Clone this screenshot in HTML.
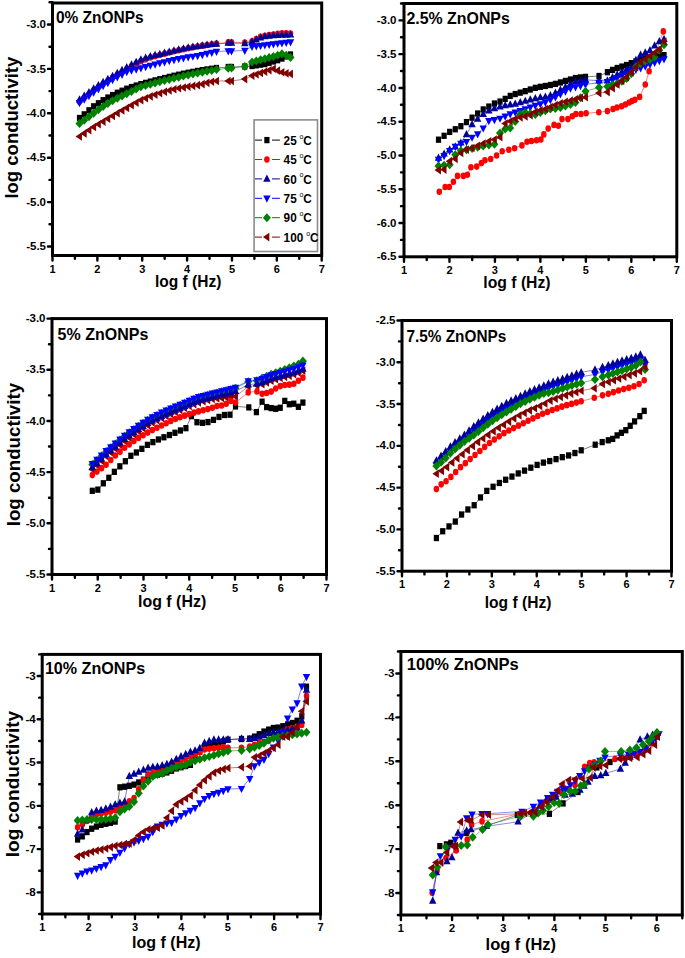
<!DOCTYPE html>
<html><head><meta charset="utf-8"><title>Log conductivity vs log f</title>
<style>html,body{margin:0;padding:0;background:#fff;overflow:hidden}svg{display:block}</style>
</head><body>
<svg width="685" height="958" viewBox="0 0 685 958" font-family='"Liberation Sans", sans-serif'>
<rect x="52.5" y="3" width="269.2" height="252.5" fill="none" stroke="#000" stroke-width="3.0"/>
<text x="52.5" y="272.5" font-size="11" font-weight="bold" text-anchor="middle">1</text>
<text x="97.37" y="272.5" font-size="11" font-weight="bold" text-anchor="middle">2</text>
<text x="142.23" y="272.5" font-size="11" font-weight="bold" text-anchor="middle">3</text>
<text x="187.1" y="272.5" font-size="11" font-weight="bold" text-anchor="middle">4</text>
<text x="231.97" y="272.5" font-size="11" font-weight="bold" text-anchor="middle">5</text>
<text x="276.83" y="272.5" font-size="11" font-weight="bold" text-anchor="middle">6</text>
<text x="321.7" y="272.5" font-size="11" font-weight="bold" text-anchor="middle">7</text>
<text x="46" y="28.1" font-size="11.5" font-weight="bold" text-anchor="end">-3.0</text>
<text x="46" y="72.5" font-size="11.5" font-weight="bold" text-anchor="end">-3.5</text>
<text x="46" y="116.9" font-size="11.5" font-weight="bold" text-anchor="end">-4.0</text>
<text x="46" y="161.3" font-size="11.5" font-weight="bold" text-anchor="end">-4.5</text>
<text x="46" y="205.7" font-size="11.5" font-weight="bold" text-anchor="end">-5.0</text>
<text x="46" y="250.1" font-size="11.5" font-weight="bold" text-anchor="end">-5.5</text>
<path d="M52.5 255.5V260.5M74.93 255.5V258.7M97.37 255.5V260.5M119.8 255.5V258.7M142.23 255.5V260.5M164.67 255.5V258.7M187.1 255.5V260.5M209.53 255.5V258.7M231.97 255.5V260.5M254.4 255.5V258.7M276.83 255.5V260.5M299.27 255.5V258.7M321.7 255.5V260.5M52.5 2.3H49.5M52.5 24.5H48M52.5 46.7H49.5M52.5 68.9H48M52.5 91.1H49.5M52.5 113.3H48M52.5 135.5H49.5M52.5 157.7H48M52.5 179.9H49.5M52.5 202.1H48M52.5 224.3H49.5M52.5 246.5H48" stroke="#000" stroke-width="2.4" stroke-linecap="round" fill="none"/>
<path d="M79.5 118L84.22 114.37L88.95 110.32L93.67 106.32L98.4 103.27L103.12 100.22L107.84 97.54L112.57 95.12L117.29 92.75L122.02 90.73L126.74 88.71L131.47 87.05L136.19 85.58L140.91 84.15L145.64 82.87L150.36 81.59L155.09 80.39L159.81 79.21L164.53 78.05L169.26 76.9L173.98 75.75L178.71 74.71L183.43 73.71L188.16 72.74L192.88 71.85L197.6 70.95L202.33 70.16L207.05 69.46L211.78 68.75L216.5 68L228.2 67L231.5 67L244.8 66.5L252 66L256.28 65.34L260.56 64.68L264.83 64.03L269.11 62.77L273.39 61.48L277.67 60.2L281.94 58.53L286.22 56.39L290.5 54.5" stroke="#000000" stroke-width="0.5" fill="none"/>
<rect x="76.9" y="114.85" width="5.2" height="6.3" fill="#000000"/>
<rect x="81.62" y="111.22" width="5.2" height="6.3" fill="#000000"/>
<rect x="86.35" y="107.17" width="5.2" height="6.3" fill="#000000"/>
<rect x="91.07" y="103.17" width="5.2" height="6.3" fill="#000000"/>
<rect x="95.8" y="100.12" width="5.2" height="6.3" fill="#000000"/>
<rect x="100.52" y="97.07" width="5.2" height="6.3" fill="#000000"/>
<rect x="105.24" y="94.39" width="5.2" height="6.3" fill="#000000"/>
<rect x="109.97" y="91.97" width="5.2" height="6.3" fill="#000000"/>
<rect x="114.69" y="89.6" width="5.2" height="6.3" fill="#000000"/>
<rect x="119.42" y="87.58" width="5.2" height="6.3" fill="#000000"/>
<rect x="124.14" y="85.56" width="5.2" height="6.3" fill="#000000"/>
<rect x="128.87" y="83.9" width="5.2" height="6.3" fill="#000000"/>
<rect x="133.59" y="82.43" width="5.2" height="6.3" fill="#000000"/>
<rect x="138.31" y="81" width="5.2" height="6.3" fill="#000000"/>
<rect x="143.04" y="79.72" width="5.2" height="6.3" fill="#000000"/>
<rect x="147.76" y="78.44" width="5.2" height="6.3" fill="#000000"/>
<rect x="152.49" y="77.24" width="5.2" height="6.3" fill="#000000"/>
<rect x="157.21" y="76.06" width="5.2" height="6.3" fill="#000000"/>
<rect x="161.93" y="74.9" width="5.2" height="6.3" fill="#000000"/>
<rect x="166.66" y="73.75" width="5.2" height="6.3" fill="#000000"/>
<rect x="171.38" y="72.6" width="5.2" height="6.3" fill="#000000"/>
<rect x="176.11" y="71.56" width="5.2" height="6.3" fill="#000000"/>
<rect x="180.83" y="70.56" width="5.2" height="6.3" fill="#000000"/>
<rect x="185.56" y="69.59" width="5.2" height="6.3" fill="#000000"/>
<rect x="190.28" y="68.7" width="5.2" height="6.3" fill="#000000"/>
<rect x="195" y="67.8" width="5.2" height="6.3" fill="#000000"/>
<rect x="199.73" y="67.01" width="5.2" height="6.3" fill="#000000"/>
<rect x="204.45" y="66.31" width="5.2" height="6.3" fill="#000000"/>
<rect x="209.18" y="65.6" width="5.2" height="6.3" fill="#000000"/>
<rect x="213.9" y="64.85" width="5.2" height="6.3" fill="#000000"/>
<rect x="225.6" y="63.85" width="5.2" height="6.3" fill="#000000"/>
<rect x="228.9" y="63.85" width="5.2" height="6.3" fill="#000000"/>
<rect x="242.2" y="63.35" width="5.2" height="6.3" fill="#000000"/>
<rect x="249.4" y="62.85" width="5.2" height="6.3" fill="#000000"/>
<rect x="253.68" y="62.19" width="5.2" height="6.3" fill="#000000"/>
<rect x="257.96" y="61.53" width="5.2" height="6.3" fill="#000000"/>
<rect x="262.23" y="60.88" width="5.2" height="6.3" fill="#000000"/>
<rect x="266.51" y="59.62" width="5.2" height="6.3" fill="#000000"/>
<rect x="270.79" y="58.33" width="5.2" height="6.3" fill="#000000"/>
<rect x="275.07" y="57.05" width="5.2" height="6.3" fill="#000000"/>
<rect x="279.34" y="55.38" width="5.2" height="6.3" fill="#000000"/>
<rect x="283.62" y="53.24" width="5.2" height="6.3" fill="#000000"/>
<rect x="287.9" y="51.35" width="5.2" height="6.3" fill="#000000"/>
<path d="M79.5 101.69L84.22 97.89L88.95 94.09L93.67 90.31L98.4 87.05L103.12 83.8L107.84 80.68L112.57 77.65L117.29 74.65L122.02 71.82L126.74 68.99L131.47 66.28L136.19 63.64L140.91 61.15L145.64 59.35L150.36 57.55L155.09 56.16L159.81 54.95L164.53 53.73L169.26 52.5L173.98 51.27L178.71 50.21L183.43 49.21L188.16 48.24L192.88 47.35L197.6 46.45L202.33 45.66L207.05 44.96L211.78 44.29L216.5 43.66L228.2 42.42L231.5 42.21L244.8 42.6L252 41.2L256.28 39.06L260.56 36.92L264.83 35.76L269.11 35.11L273.39 34.45L277.67 33.82L281.94 33.21L286.22 33.36L290.5 33.5" stroke="#ff0000" stroke-width="0.5" fill="none"/>
<ellipse cx="79.5" cy="101.69" rx="2.75" ry="3.3" fill="#ff0000"/>
<ellipse cx="84.22" cy="97.89" rx="2.75" ry="3.3" fill="#ff0000"/>
<ellipse cx="88.95" cy="94.09" rx="2.75" ry="3.3" fill="#ff0000"/>
<ellipse cx="93.67" cy="90.31" rx="2.75" ry="3.3" fill="#ff0000"/>
<ellipse cx="98.4" cy="87.05" rx="2.75" ry="3.3" fill="#ff0000"/>
<ellipse cx="103.12" cy="83.8" rx="2.75" ry="3.3" fill="#ff0000"/>
<ellipse cx="107.84" cy="80.68" rx="2.75" ry="3.3" fill="#ff0000"/>
<ellipse cx="112.57" cy="77.65" rx="2.75" ry="3.3" fill="#ff0000"/>
<ellipse cx="117.29" cy="74.65" rx="2.75" ry="3.3" fill="#ff0000"/>
<ellipse cx="122.02" cy="71.82" rx="2.75" ry="3.3" fill="#ff0000"/>
<ellipse cx="126.74" cy="68.99" rx="2.75" ry="3.3" fill="#ff0000"/>
<ellipse cx="131.47" cy="66.28" rx="2.75" ry="3.3" fill="#ff0000"/>
<ellipse cx="136.19" cy="63.64" rx="2.75" ry="3.3" fill="#ff0000"/>
<ellipse cx="140.91" cy="61.15" rx="2.75" ry="3.3" fill="#ff0000"/>
<ellipse cx="145.64" cy="59.35" rx="2.75" ry="3.3" fill="#ff0000"/>
<ellipse cx="150.36" cy="57.55" rx="2.75" ry="3.3" fill="#ff0000"/>
<ellipse cx="155.09" cy="56.16" rx="2.75" ry="3.3" fill="#ff0000"/>
<ellipse cx="159.81" cy="54.95" rx="2.75" ry="3.3" fill="#ff0000"/>
<ellipse cx="164.53" cy="53.73" rx="2.75" ry="3.3" fill="#ff0000"/>
<ellipse cx="169.26" cy="52.5" rx="2.75" ry="3.3" fill="#ff0000"/>
<ellipse cx="173.98" cy="51.27" rx="2.75" ry="3.3" fill="#ff0000"/>
<ellipse cx="178.71" cy="50.21" rx="2.75" ry="3.3" fill="#ff0000"/>
<ellipse cx="183.43" cy="49.21" rx="2.75" ry="3.3" fill="#ff0000"/>
<ellipse cx="188.16" cy="48.24" rx="2.75" ry="3.3" fill="#ff0000"/>
<ellipse cx="192.88" cy="47.35" rx="2.75" ry="3.3" fill="#ff0000"/>
<ellipse cx="197.6" cy="46.45" rx="2.75" ry="3.3" fill="#ff0000"/>
<ellipse cx="202.33" cy="45.66" rx="2.75" ry="3.3" fill="#ff0000"/>
<ellipse cx="207.05" cy="44.96" rx="2.75" ry="3.3" fill="#ff0000"/>
<ellipse cx="211.78" cy="44.29" rx="2.75" ry="3.3" fill="#ff0000"/>
<ellipse cx="216.5" cy="43.66" rx="2.75" ry="3.3" fill="#ff0000"/>
<ellipse cx="228.2" cy="42.42" rx="2.75" ry="3.3" fill="#ff0000"/>
<ellipse cx="231.5" cy="42.21" rx="2.75" ry="3.3" fill="#ff0000"/>
<ellipse cx="244.8" cy="42.6" rx="2.75" ry="3.3" fill="#ff0000"/>
<ellipse cx="252" cy="41.2" rx="2.75" ry="3.3" fill="#ff0000"/>
<ellipse cx="256.28" cy="39.06" rx="2.75" ry="3.3" fill="#ff0000"/>
<ellipse cx="260.56" cy="36.92" rx="2.75" ry="3.3" fill="#ff0000"/>
<ellipse cx="264.83" cy="35.76" rx="2.75" ry="3.3" fill="#ff0000"/>
<ellipse cx="269.11" cy="35.11" rx="2.75" ry="3.3" fill="#ff0000"/>
<ellipse cx="273.39" cy="34.45" rx="2.75" ry="3.3" fill="#ff0000"/>
<ellipse cx="277.67" cy="33.82" rx="2.75" ry="3.3" fill="#ff0000"/>
<ellipse cx="281.94" cy="33.21" rx="2.75" ry="3.3" fill="#ff0000"/>
<ellipse cx="286.22" cy="33.36" rx="2.75" ry="3.3" fill="#ff0000"/>
<ellipse cx="290.5" cy="33.5" rx="2.75" ry="3.3" fill="#ff0000"/>
<path d="M79.5 99.73L84.22 96.08L88.95 92.44L93.67 88.81L98.4 85.55L103.12 82.3L107.84 79.18L112.57 76.15L117.29 73.15L122.02 70.32L126.74 67.49L131.47 64.78L136.19 62.14L140.91 59.69L145.64 58.09L150.36 56.49L155.09 55.24L159.81 54.15L164.53 53.05L169.26 51.9L173.98 50.75L178.71 49.71L183.43 48.71L188.16 47.79L192.88 47.08L197.6 46.36L202.33 45.66L207.05 44.96L211.78 44.37L216.5 43.99L228.2 43L231.5 43L244.8 43.5L252 41.7L256.28 39.69L260.56 37.68L264.83 36.63L269.11 36.07L273.39 35.51L277.67 35.21L281.94 35.07L286.22 34.93L290.5 34.8" stroke="#00009a" stroke-width="0.5" fill="none"/>
<path d="M79.5 95.26L83.2 102.46L75.8 102.46Z" fill="#00009a"/>
<path d="M84.22 91.62L87.92 98.82L80.52 98.82Z" fill="#00009a"/>
<path d="M88.95 87.97L92.65 95.17L85.25 95.17Z" fill="#00009a"/>
<path d="M93.67 84.35L97.37 91.55L89.97 91.55Z" fill="#00009a"/>
<path d="M98.4 81.09L102.1 88.29L94.7 88.29Z" fill="#00009a"/>
<path d="M103.12 77.83L106.82 85.03L99.42 85.03Z" fill="#00009a"/>
<path d="M107.84 74.71L111.54 81.91L104.14 81.91Z" fill="#00009a"/>
<path d="M112.57 71.68L116.27 78.88L108.87 78.88Z" fill="#00009a"/>
<path d="M117.29 68.68L120.99 75.88L113.59 75.88Z" fill="#00009a"/>
<path d="M122.02 65.85L125.72 73.05L118.32 73.05Z" fill="#00009a"/>
<path d="M126.74 63.03L130.44 70.23L123.04 70.23Z" fill="#00009a"/>
<path d="M131.47 60.32L135.17 67.52L127.77 67.52Z" fill="#00009a"/>
<path d="M136.19 57.67L139.89 64.87L132.49 64.87Z" fill="#00009a"/>
<path d="M140.91 55.23L144.61 62.43L137.21 62.43Z" fill="#00009a"/>
<path d="M145.64 53.62L149.34 60.82L141.94 60.82Z" fill="#00009a"/>
<path d="M150.36 52.02L154.06 59.22L146.66 59.22Z" fill="#00009a"/>
<path d="M155.09 50.78L158.79 57.98L151.39 57.98Z" fill="#00009a"/>
<path d="M159.81 49.69L163.51 56.89L156.11 56.89Z" fill="#00009a"/>
<path d="M164.53 48.58L168.23 55.78L160.83 55.78Z" fill="#00009a"/>
<path d="M169.26 47.43L172.96 54.63L165.56 54.63Z" fill="#00009a"/>
<path d="M173.98 46.28L177.68 53.48L170.28 53.48Z" fill="#00009a"/>
<path d="M178.71 45.25L182.41 52.45L175.01 52.45Z" fill="#00009a"/>
<path d="M183.43 44.25L187.13 51.45L179.73 51.45Z" fill="#00009a"/>
<path d="M188.16 43.33L191.86 50.53L184.46 50.53Z" fill="#00009a"/>
<path d="M192.88 42.61L196.58 49.81L189.18 49.81Z" fill="#00009a"/>
<path d="M197.6 41.9L201.3 49.1L193.9 49.1Z" fill="#00009a"/>
<path d="M202.33 41.19L206.03 48.39L198.63 48.39Z" fill="#00009a"/>
<path d="M207.05 40.5L210.75 47.7L203.35 47.7Z" fill="#00009a"/>
<path d="M211.78 39.91L215.48 47.11L208.08 47.11Z" fill="#00009a"/>
<path d="M216.5 39.52L220.2 46.72L212.8 46.72Z" fill="#00009a"/>
<path d="M228.2 38.54L231.9 45.74L224.5 45.74Z" fill="#00009a"/>
<path d="M231.5 38.54L235.2 45.74L227.8 45.74Z" fill="#00009a"/>
<path d="M244.8 39.04L248.5 46.24L241.1 46.24Z" fill="#00009a"/>
<path d="M252 37.24L255.7 44.44L248.3 44.44Z" fill="#00009a"/>
<path d="M256.28 35.23L259.98 42.43L252.58 42.43Z" fill="#00009a"/>
<path d="M260.56 33.21L264.26 40.41L256.86 40.41Z" fill="#00009a"/>
<path d="M264.83 32.17L268.53 39.37L261.13 39.37Z" fill="#00009a"/>
<path d="M269.11 31.61L272.81 38.81L265.41 38.81Z" fill="#00009a"/>
<path d="M273.39 31.05L277.09 38.25L269.69 38.25Z" fill="#00009a"/>
<path d="M277.67 30.75L281.37 37.95L273.97 37.95Z" fill="#00009a"/>
<path d="M281.94 30.6L285.64 37.8L278.24 37.8Z" fill="#00009a"/>
<path d="M286.22 30.46L289.92 37.66L282.52 37.66Z" fill="#00009a"/>
<path d="M290.5 30.34L294.2 37.54L286.8 37.54Z" fill="#00009a"/>
<path d="M79.5 102.76L84.22 99.27L88.95 95.79L93.67 92.31L98.4 89.05L103.12 85.8L107.84 82.75L112.57 79.84L117.29 76.98L122.02 74.44L126.74 71.89L131.47 70.29L136.19 69.19L140.91 68.04L145.64 66.72L150.36 65.4L155.09 64.21L159.81 63.08L164.53 61.96L169.26 60.85L173.98 59.74L178.71 58.81L183.43 57.93L188.16 57.09L192.88 56.38L197.6 55.66L202.33 54.73L207.05 53.57L211.78 52.47L216.5 51.5L228.2 51L231.5 51L244.8 50.5L252 46.5L256.28 46.07L260.56 45.64L264.83 45.11L269.11 44.52L273.39 43.92L277.67 43.4L281.94 42.91L286.22 42.43L290.5 42" stroke="#0000ff" stroke-width="0.5" fill="none"/>
<path d="M79.5 107.23L83.2 100.03L75.8 100.03Z" fill="#0000ff"/>
<path d="M84.22 103.74L87.92 96.54L80.52 96.54Z" fill="#0000ff"/>
<path d="M88.95 100.25L92.65 93.05L85.25 93.05Z" fill="#0000ff"/>
<path d="M93.67 96.78L97.37 89.58L89.97 89.58Z" fill="#0000ff"/>
<path d="M98.4 93.52L102.1 86.32L94.7 86.32Z" fill="#0000ff"/>
<path d="M103.12 90.26L106.82 83.06L99.42 83.06Z" fill="#0000ff"/>
<path d="M107.84 87.21L111.54 80.01L104.14 80.01Z" fill="#0000ff"/>
<path d="M112.57 84.31L116.27 77.11L108.87 77.11Z" fill="#0000ff"/>
<path d="M117.29 81.44L120.99 74.24L113.59 74.24Z" fill="#0000ff"/>
<path d="M122.02 78.9L125.72 71.7L118.32 71.7Z" fill="#0000ff"/>
<path d="M126.74 76.36L130.44 69.16L123.04 69.16Z" fill="#0000ff"/>
<path d="M131.47 74.75L135.17 67.55L127.77 67.55Z" fill="#0000ff"/>
<path d="M136.19 73.65L139.89 66.45L132.49 66.45Z" fill="#0000ff"/>
<path d="M140.91 72.51L144.61 65.31L137.21 65.31Z" fill="#0000ff"/>
<path d="M145.64 71.19L149.34 63.99L141.94 63.99Z" fill="#0000ff"/>
<path d="M150.36 69.87L154.06 62.67L146.66 62.67Z" fill="#0000ff"/>
<path d="M155.09 68.68L158.79 61.48L151.39 61.48Z" fill="#0000ff"/>
<path d="M159.81 67.55L163.51 60.35L156.11 60.35Z" fill="#0000ff"/>
<path d="M164.53 66.42L168.23 59.22L160.83 59.22Z" fill="#0000ff"/>
<path d="M169.26 65.31L172.96 58.11L165.56 58.11Z" fill="#0000ff"/>
<path d="M173.98 64.2L177.68 57L170.28 57Z" fill="#0000ff"/>
<path d="M178.71 63.27L182.41 56.07L175.01 56.07Z" fill="#0000ff"/>
<path d="M183.43 62.39L187.13 55.19L179.73 55.19Z" fill="#0000ff"/>
<path d="M188.16 61.56L191.86 54.36L184.46 54.36Z" fill="#0000ff"/>
<path d="M192.88 60.84L196.58 53.64L189.18 53.64Z" fill="#0000ff"/>
<path d="M197.6 60.13L201.3 52.93L193.9 52.93Z" fill="#0000ff"/>
<path d="M202.33 59.19L206.03 51.99L198.63 51.99Z" fill="#0000ff"/>
<path d="M207.05 58.04L210.75 50.84L203.35 50.84Z" fill="#0000ff"/>
<path d="M211.78 56.94L215.48 49.74L208.08 49.74Z" fill="#0000ff"/>
<path d="M216.5 55.96L220.2 48.76L212.8 48.76Z" fill="#0000ff"/>
<path d="M228.2 55.46L231.9 48.26L224.5 48.26Z" fill="#0000ff"/>
<path d="M231.5 55.46L235.2 48.26L227.8 48.26Z" fill="#0000ff"/>
<path d="M244.8 54.96L248.5 47.76L241.1 47.76Z" fill="#0000ff"/>
<path d="M252 50.96L255.7 43.76L248.3 43.76Z" fill="#0000ff"/>
<path d="M256.28 50.54L259.98 43.34L252.58 43.34Z" fill="#0000ff"/>
<path d="M260.56 50.11L264.26 42.91L256.86 42.91Z" fill="#0000ff"/>
<path d="M264.83 49.57L268.53 42.37L261.13 42.37Z" fill="#0000ff"/>
<path d="M269.11 48.98L272.81 41.78L265.41 41.78Z" fill="#0000ff"/>
<path d="M273.39 48.39L277.09 41.19L269.69 41.19Z" fill="#0000ff"/>
<path d="M277.67 47.86L281.37 40.66L273.97 40.66Z" fill="#0000ff"/>
<path d="M281.94 47.38L285.64 40.18L278.24 40.18Z" fill="#0000ff"/>
<path d="M286.22 46.89L289.92 39.69L282.52 39.69Z" fill="#0000ff"/>
<path d="M290.5 46.46L294.2 39.26L286.8 39.26Z" fill="#0000ff"/>
<path d="M79.5 123.5L84.22 120.35L88.95 116.82L93.67 113.3L98.4 109.84L103.12 106.38L107.84 103.42L112.57 100.8L117.29 98.22L122.02 96L126.74 93.78L131.47 91.41L136.19 88.97L140.91 86.75L145.64 85.47L150.36 84.19L155.09 82.96L159.81 81.75L164.53 80.55L169.26 79.4L173.98 78.25L178.71 77.15L183.43 76.07L188.16 75.02L192.88 74.06L197.6 73.09L202.33 72.17L207.05 71.29L211.78 70.4L216.5 69.5L228.2 68.3L231.5 68L244.8 66.6L252 62L256.28 60.89L260.56 59.78L264.83 58.68L269.11 57.59L273.39 56.51L277.67 55.23L281.94 53.84L286.22 55.3L290.5 57.4" stroke="#008000" stroke-width="0.5" fill="none"/>
<path d="M79.5 119L83.5 123.5L79.5 128L75.5 123.5Z" fill="#008000"/>
<path d="M84.22 115.85L88.22 120.35L84.22 124.85L80.22 120.35Z" fill="#008000"/>
<path d="M88.95 112.32L92.95 116.82L88.95 121.32L84.95 116.82Z" fill="#008000"/>
<path d="M93.67 108.8L97.67 113.3L93.67 117.8L89.67 113.3Z" fill="#008000"/>
<path d="M98.4 105.34L102.4 109.84L98.4 114.34L94.4 109.84Z" fill="#008000"/>
<path d="M103.12 101.88L107.12 106.38L103.12 110.88L99.12 106.38Z" fill="#008000"/>
<path d="M107.84 98.92L111.84 103.42L107.84 107.92L103.84 103.42Z" fill="#008000"/>
<path d="M112.57 96.3L116.57 100.8L112.57 105.3L108.57 100.8Z" fill="#008000"/>
<path d="M117.29 93.72L121.29 98.22L117.29 102.72L113.29 98.22Z" fill="#008000"/>
<path d="M122.02 91.5L126.02 96L122.02 100.5L118.02 96Z" fill="#008000"/>
<path d="M126.74 89.28L130.74 93.78L126.74 98.28L122.74 93.78Z" fill="#008000"/>
<path d="M131.47 86.91L135.47 91.41L131.47 95.91L127.47 91.41Z" fill="#008000"/>
<path d="M136.19 84.47L140.19 88.97L136.19 93.47L132.19 88.97Z" fill="#008000"/>
<path d="M140.91 82.25L144.91 86.75L140.91 91.25L136.91 86.75Z" fill="#008000"/>
<path d="M145.64 80.97L149.64 85.47L145.64 89.97L141.64 85.47Z" fill="#008000"/>
<path d="M150.36 79.69L154.36 84.19L150.36 88.69L146.36 84.19Z" fill="#008000"/>
<path d="M155.09 78.46L159.09 82.96L155.09 87.46L151.09 82.96Z" fill="#008000"/>
<path d="M159.81 77.25L163.81 81.75L159.81 86.25L155.81 81.75Z" fill="#008000"/>
<path d="M164.53 76.05L168.53 80.55L164.53 85.05L160.53 80.55Z" fill="#008000"/>
<path d="M169.26 74.9L173.26 79.4L169.26 83.9L165.26 79.4Z" fill="#008000"/>
<path d="M173.98 73.75L177.98 78.25L173.98 82.75L169.98 78.25Z" fill="#008000"/>
<path d="M178.71 72.65L182.71 77.15L178.71 81.65L174.71 77.15Z" fill="#008000"/>
<path d="M183.43 71.57L187.43 76.07L183.43 80.57L179.43 76.07Z" fill="#008000"/>
<path d="M188.16 70.52L192.16 75.02L188.16 79.52L184.16 75.02Z" fill="#008000"/>
<path d="M192.88 69.56L196.88 74.06L192.88 78.56L188.88 74.06Z" fill="#008000"/>
<path d="M197.6 68.59L201.6 73.09L197.6 77.59L193.6 73.09Z" fill="#008000"/>
<path d="M202.33 67.67L206.33 72.17L202.33 76.67L198.33 72.17Z" fill="#008000"/>
<path d="M207.05 66.79L211.05 71.29L207.05 75.79L203.05 71.29Z" fill="#008000"/>
<path d="M211.78 65.9L215.78 70.4L211.78 74.9L207.78 70.4Z" fill="#008000"/>
<path d="M216.5 65L220.5 69.5L216.5 74L212.5 69.5Z" fill="#008000"/>
<path d="M228.2 63.8L232.2 68.3L228.2 72.8L224.2 68.3Z" fill="#008000"/>
<path d="M231.5 63.5L235.5 68L231.5 72.5L227.5 68Z" fill="#008000"/>
<path d="M244.8 62.1L248.8 66.6L244.8 71.1L240.8 66.6Z" fill="#008000"/>
<path d="M252 57.5L256 62L252 66.5L248 62Z" fill="#008000"/>
<path d="M256.28 56.39L260.28 60.89L256.28 65.39L252.28 60.89Z" fill="#008000"/>
<path d="M260.56 55.28L264.56 59.78L260.56 64.28L256.56 59.78Z" fill="#008000"/>
<path d="M264.83 54.18L268.83 58.68L264.83 63.18L260.83 58.68Z" fill="#008000"/>
<path d="M269.11 53.09L273.11 57.59L269.11 62.09L265.11 57.59Z" fill="#008000"/>
<path d="M273.39 52.01L277.39 56.51L273.39 61.01L269.39 56.51Z" fill="#008000"/>
<path d="M277.67 50.73L281.67 55.23L277.67 59.73L273.67 55.23Z" fill="#008000"/>
<path d="M281.94 49.34L285.94 53.84L281.94 58.34L277.94 53.84Z" fill="#008000"/>
<path d="M286.22 50.8L290.22 55.3L286.22 59.8L282.22 55.3Z" fill="#008000"/>
<path d="M290.5 52.9L294.5 57.4L290.5 61.9L286.5 57.4Z" fill="#008000"/>
<path d="M79.5 136.5L84.22 133.38L88.95 130.2L93.67 127.04L98.4 124.31L103.12 121.59L107.84 118.8L112.57 115.97L117.29 113.17L122.02 110.55L126.74 107.92L131.47 105.28L136.19 102.64L140.91 100.14L145.64 98.25L150.36 96.37L155.09 94.73L159.81 93.2L164.53 91.73L169.26 90.5L173.98 89.27L178.71 88.31L183.43 87.43L188.16 86.59L192.88 85.88L197.6 85.16L202.33 84.16L207.05 82.86L211.78 81.74L216.5 80.97L228.2 81L231.5 81L244.8 79.1L252 75.8L256.28 74.43L260.56 73.06L264.83 71.67L269.11 70.25L273.39 68.7L277.67 70.67L281.94 72.24L286.22 73.37L290.5 73.9" stroke="#800000" stroke-width="0.5" fill="none"/>
<path d="M75.53 136.5L81.93 132.2L81.93 140.8Z" fill="#800000"/>
<path d="M80.26 133.38L86.66 129.08L86.66 137.68Z" fill="#800000"/>
<path d="M84.98 130.2L91.38 125.9L91.38 134.5Z" fill="#800000"/>
<path d="M89.7 127.04L96.1 122.74L96.1 131.34Z" fill="#800000"/>
<path d="M94.43 124.31L100.83 120.01L100.83 128.61Z" fill="#800000"/>
<path d="M99.15 121.59L105.55 117.29L105.55 125.89Z" fill="#800000"/>
<path d="M103.88 118.8L110.28 114.5L110.28 123.1Z" fill="#800000"/>
<path d="M108.6 115.97L115 111.67L115 120.27Z" fill="#800000"/>
<path d="M113.33 113.17L119.73 108.87L119.73 117.47Z" fill="#800000"/>
<path d="M118.05 110.55L124.45 106.25L124.45 114.85Z" fill="#800000"/>
<path d="M122.77 107.92L129.17 103.62L129.17 112.22Z" fill="#800000"/>
<path d="M127.5 105.28L133.9 100.98L133.9 109.58Z" fill="#800000"/>
<path d="M132.22 102.64L138.62 98.34L138.62 106.94Z" fill="#800000"/>
<path d="M136.95 100.14L143.35 95.84L143.35 104.44Z" fill="#800000"/>
<path d="M141.67 98.25L148.07 93.95L148.07 102.55Z" fill="#800000"/>
<path d="M146.39 96.37L152.79 92.07L152.79 100.67Z" fill="#800000"/>
<path d="M151.12 94.73L157.52 90.43L157.52 99.03Z" fill="#800000"/>
<path d="M155.84 93.2L162.24 88.9L162.24 97.5Z" fill="#800000"/>
<path d="M160.57 91.73L166.97 87.43L166.97 96.03Z" fill="#800000"/>
<path d="M165.29 90.5L171.69 86.2L171.69 94.8Z" fill="#800000"/>
<path d="M170.01 89.27L176.41 84.97L176.41 93.57Z" fill="#800000"/>
<path d="M174.74 88.31L181.14 84.01L181.14 92.61Z" fill="#800000"/>
<path d="M179.46 87.43L185.86 83.13L185.86 91.73Z" fill="#800000"/>
<path d="M184.19 86.59L190.59 82.29L190.59 90.89Z" fill="#800000"/>
<path d="M188.91 85.88L195.31 81.58L195.31 90.18Z" fill="#800000"/>
<path d="M193.64 85.16L200.04 80.86L200.04 89.46Z" fill="#800000"/>
<path d="M198.36 84.16L204.76 79.86L204.76 88.46Z" fill="#800000"/>
<path d="M203.08 82.86L209.48 78.56L209.48 87.16Z" fill="#800000"/>
<path d="M207.81 81.74L214.21 77.44L214.21 86.04Z" fill="#800000"/>
<path d="M212.53 80.97L218.93 76.67L218.93 85.27Z" fill="#800000"/>
<path d="M224.23 81L230.63 76.7L230.63 85.3Z" fill="#800000"/>
<path d="M227.53 81L233.93 76.7L233.93 85.3Z" fill="#800000"/>
<path d="M240.83 79.1L247.23 74.8L247.23 83.4Z" fill="#800000"/>
<path d="M248.03 75.8L254.43 71.5L254.43 80.1Z" fill="#800000"/>
<path d="M252.31 74.43L258.71 70.13L258.71 78.73Z" fill="#800000"/>
<path d="M256.59 73.06L262.99 68.76L262.99 77.36Z" fill="#800000"/>
<path d="M260.87 71.67L267.27 67.37L267.27 75.97Z" fill="#800000"/>
<path d="M265.14 70.25L271.54 65.95L271.54 74.55Z" fill="#800000"/>
<path d="M269.42 68.7L275.82 64.4L275.82 73Z" fill="#800000"/>
<path d="M273.7 70.67L280.1 66.37L280.1 74.97Z" fill="#800000"/>
<path d="M277.98 72.24L284.38 67.94L284.38 76.54Z" fill="#800000"/>
<path d="M282.25 73.37L288.65 69.07L288.65 77.67Z" fill="#800000"/>
<path d="M286.53 73.9L292.93 69.6L292.93 78.2Z" fill="#800000"/>
<rect x="254.1" y="119.9" width="63.4" height="131.6" fill="#fff" stroke="#8c8c8c" stroke-width="1.6"/>
<path d="M255 140.1H262M272 140.1H279.9" stroke="#000000" stroke-width="1"/>
<rect x="264.3" y="136.95" width="5.2" height="6.3" fill="#000000"/>
<text transform="translate(283.6 144.7) scale(0.94 1)" font-size="12.5" font-weight="bold">25</text>
<text transform="translate(299.5 138.5) scale(0.94 1)" font-size="7.5" font-weight="normal">o</text>
<text transform="translate(303.3 144.7) scale(0.94 1)" font-size="12.5" font-weight="bold">C</text>
<path d="M255 159.5H262M272 159.5H279.9" stroke="#ff0000" stroke-width="1"/>
<ellipse cx="266.9" cy="159.5" rx="2.75" ry="3.3" fill="#ff0000"/>
<text transform="translate(283.6 164.1) scale(0.94 1)" font-size="12.5" font-weight="bold">45</text>
<text transform="translate(299.5 157.9) scale(0.94 1)" font-size="7.5" font-weight="normal">o</text>
<text transform="translate(303.3 164.1) scale(0.94 1)" font-size="12.5" font-weight="bold">C</text>
<path d="M255 178.9H262M272 178.9H279.9" stroke="#00009a" stroke-width="1"/>
<path d="M266.9 174.44L270.6 181.64L263.2 181.64Z" fill="#00009a"/>
<text transform="translate(283.6 183.5) scale(0.94 1)" font-size="12.5" font-weight="bold">60</text>
<text transform="translate(299.5 177.3) scale(0.94 1)" font-size="7.5" font-weight="normal">o</text>
<text transform="translate(303.3 183.5) scale(0.94 1)" font-size="12.5" font-weight="bold">C</text>
<path d="M255 198.3H262M272 198.3H279.9" stroke="#0000ff" stroke-width="1"/>
<path d="M266.9 202.76L270.6 195.56L263.2 195.56Z" fill="#0000ff"/>
<text transform="translate(283.6 202.9) scale(0.94 1)" font-size="12.5" font-weight="bold">75</text>
<text transform="translate(299.5 196.7) scale(0.94 1)" font-size="7.5" font-weight="normal">o</text>
<text transform="translate(303.3 202.9) scale(0.94 1)" font-size="12.5" font-weight="bold">C</text>
<path d="M255 217.7H262M272 217.7H279.9" stroke="#008000" stroke-width="1"/>
<path d="M266.9 213.2L270.9 217.7L266.9 222.2L262.9 217.7Z" fill="#008000"/>
<text transform="translate(283.6 222.3) scale(0.94 1)" font-size="12.5" font-weight="bold">90</text>
<text transform="translate(299.5 216.1) scale(0.94 1)" font-size="7.5" font-weight="normal">o</text>
<text transform="translate(303.3 222.3) scale(0.94 1)" font-size="12.5" font-weight="bold">C</text>
<path d="M255 237.1H262M272 237.1H279.9" stroke="#800000" stroke-width="1"/>
<path d="M262.93 237.1L269.33 232.8L269.33 241.4Z" fill="#800000"/>
<text transform="translate(283.6 241.7) scale(0.94 1)" font-size="12.5" font-weight="bold">100</text>
<text transform="translate(306.2 235.5) scale(0.94 1)" font-size="7.5" font-weight="normal">o</text>
<text transform="translate(310 241.7) scale(0.94 1)" font-size="12.5" font-weight="bold">C</text>
<rect x="404" y="3.5" width="272.8" height="253.3" fill="none" stroke="#000" stroke-width="3.0"/>
<text x="404" y="273.8" font-size="11" font-weight="bold" text-anchor="middle">1</text>
<text x="449.47" y="273.8" font-size="11" font-weight="bold" text-anchor="middle">2</text>
<text x="494.93" y="273.8" font-size="11" font-weight="bold" text-anchor="middle">3</text>
<text x="540.4" y="273.8" font-size="11" font-weight="bold" text-anchor="middle">4</text>
<text x="585.87" y="273.8" font-size="11" font-weight="bold" text-anchor="middle">5</text>
<text x="631.33" y="273.8" font-size="11" font-weight="bold" text-anchor="middle">6</text>
<text x="676.8" y="273.8" font-size="11" font-weight="bold" text-anchor="middle">7</text>
<text x="396.5" y="23.99" font-size="11.5" font-weight="bold" text-anchor="end">-3.0</text>
<text x="396.5" y="57.76" font-size="11.5" font-weight="bold" text-anchor="end">-3.5</text>
<text x="396.5" y="91.53" font-size="11.5" font-weight="bold" text-anchor="end">-4.0</text>
<text x="396.5" y="125.31" font-size="11.5" font-weight="bold" text-anchor="end">-4.5</text>
<text x="396.5" y="159.08" font-size="11.5" font-weight="bold" text-anchor="end">-5.0</text>
<text x="396.5" y="192.85" font-size="11.5" font-weight="bold" text-anchor="end">-5.5</text>
<text x="396.5" y="226.63" font-size="11.5" font-weight="bold" text-anchor="end">-6.0</text>
<text x="396.5" y="260.4" font-size="11.5" font-weight="bold" text-anchor="end">-6.5</text>
<path d="M404 256.8V261.8M426.73 256.8V260M449.47 256.8V261.8M472.2 256.8V260M494.93 256.8V261.8M517.67 256.8V260M540.4 256.8V261.8M563.13 256.8V260M585.87 256.8V261.8M608.6 256.8V260M631.33 256.8V261.8M654.07 256.8V260M676.8 256.8V261.8M404 3.5H401M404 20.39H399.5M404 37.27H401M404 54.16H399.5M404 71.05H401M404 87.93H399.5M404 104.82H401M404 121.71H399.5M404 138.59H401M404 155.48H399.5M404 172.37H401M404 189.25H399.5M404 206.14H401M404 223.03H399.5M404 239.91H401M404 256.8H399.5" stroke="#000" stroke-width="2.4" stroke-linecap="round" fill="none"/>
<path d="M438.5 139.7L444.09 135.81L449.68 131.91L455.27 129.26L460.86 126.21L466.45 122.11L472.05 117.67L477.64 113.51L483.23 109.45L488.82 106.58L494.41 103.51L500 101.57L505.2 98.89L510.22 95.92L515.24 94.06L520.26 92.63L525.27 91.17L530.29 89.5L535.31 87.83L540.33 86.82L545.35 85.98L550.37 84.99L555.39 83.88L560.41 82.46L565.42 80.94L570.44 79.5L575.46 78.05L580.48 77.43L585.5 76.9L599 76L607.4 72.2L612.5 69.92L617.18 68.01L621.86 66.58L626.55 65.04L631.23 63.17L635.91 61.37L640.59 59.85L645.27 58.33L649.95 57.35L654.64 56.52L659.32 55.77L664 55.14" stroke="#000000" stroke-width="0.5" fill="none"/>
<rect x="435.9" y="136.55" width="5.2" height="6.3" fill="#000000"/>
<rect x="441.49" y="132.66" width="5.2" height="6.3" fill="#000000"/>
<rect x="447.08" y="128.76" width="5.2" height="6.3" fill="#000000"/>
<rect x="452.67" y="126.11" width="5.2" height="6.3" fill="#000000"/>
<rect x="458.26" y="123.06" width="5.2" height="6.3" fill="#000000"/>
<rect x="463.85" y="118.96" width="5.2" height="6.3" fill="#000000"/>
<rect x="469.45" y="114.52" width="5.2" height="6.3" fill="#000000"/>
<rect x="475.04" y="110.36" width="5.2" height="6.3" fill="#000000"/>
<rect x="480.63" y="106.3" width="5.2" height="6.3" fill="#000000"/>
<rect x="486.22" y="103.43" width="5.2" height="6.3" fill="#000000"/>
<rect x="491.81" y="100.36" width="5.2" height="6.3" fill="#000000"/>
<rect x="497.4" y="98.42" width="5.2" height="6.3" fill="#000000"/>
<rect x="502.6" y="95.74" width="5.2" height="6.3" fill="#000000"/>
<rect x="507.62" y="92.77" width="5.2" height="6.3" fill="#000000"/>
<rect x="512.64" y="90.91" width="5.2" height="6.3" fill="#000000"/>
<rect x="517.66" y="89.48" width="5.2" height="6.3" fill="#000000"/>
<rect x="522.67" y="88.02" width="5.2" height="6.3" fill="#000000"/>
<rect x="527.69" y="86.35" width="5.2" height="6.3" fill="#000000"/>
<rect x="532.71" y="84.68" width="5.2" height="6.3" fill="#000000"/>
<rect x="537.73" y="83.67" width="5.2" height="6.3" fill="#000000"/>
<rect x="542.75" y="82.83" width="5.2" height="6.3" fill="#000000"/>
<rect x="547.77" y="81.84" width="5.2" height="6.3" fill="#000000"/>
<rect x="552.79" y="80.73" width="5.2" height="6.3" fill="#000000"/>
<rect x="557.81" y="79.31" width="5.2" height="6.3" fill="#000000"/>
<rect x="562.82" y="77.79" width="5.2" height="6.3" fill="#000000"/>
<rect x="567.84" y="76.35" width="5.2" height="6.3" fill="#000000"/>
<rect x="572.86" y="74.9" width="5.2" height="6.3" fill="#000000"/>
<rect x="577.88" y="74.28" width="5.2" height="6.3" fill="#000000"/>
<rect x="582.9" y="73.75" width="5.2" height="6.3" fill="#000000"/>
<rect x="596.4" y="72.85" width="5.2" height="6.3" fill="#000000"/>
<rect x="604.8" y="69.05" width="5.2" height="6.3" fill="#000000"/>
<rect x="609.9" y="66.77" width="5.2" height="6.3" fill="#000000"/>
<rect x="614.58" y="64.86" width="5.2" height="6.3" fill="#000000"/>
<rect x="619.26" y="63.43" width="5.2" height="6.3" fill="#000000"/>
<rect x="623.95" y="61.89" width="5.2" height="6.3" fill="#000000"/>
<rect x="628.63" y="60.02" width="5.2" height="6.3" fill="#000000"/>
<rect x="633.31" y="58.22" width="5.2" height="6.3" fill="#000000"/>
<rect x="637.99" y="56.7" width="5.2" height="6.3" fill="#000000"/>
<rect x="642.67" y="55.18" width="5.2" height="6.3" fill="#000000"/>
<rect x="647.35" y="54.2" width="5.2" height="6.3" fill="#000000"/>
<rect x="652.04" y="53.37" width="5.2" height="6.3" fill="#000000"/>
<rect x="656.72" y="52.62" width="5.2" height="6.3" fill="#000000"/>
<rect x="661.4" y="51.99" width="5.2" height="6.3" fill="#000000"/>
<path d="M439.3 191.7L445.2 187L449.3 187L453.4 181.8L457.5 175.9L463.3 175.9L467.4 174.8L470.9 167.2L476.7 166.6L481.4 163.1L484.9 160.2L490.7 159L496.6 155.5L502.2 151.2L508.8 149.7L514.6 148.3L521.9 145.4L527 141.7L531.4 141L536.5 140.3L540.9 139.5L543.8 134.4L548.2 128.6L554 124.9L558.4 125.7L562 119.1L567.9 119.1L572.3 116.2L575.9 114L581 114L586.1 113.2L598.8 112.3L607.4 111.1L613 109L617 107.5L621.6 106.3L625.4 104.5L629.2 102.5L632 101L634.9 99.7L639.6 96.9L645.3 84.5L649.1 71.2L663.3 31.4" stroke="#ff0000" stroke-width="0.5" fill="none"/>
<ellipse cx="439.3" cy="191.7" rx="2.75" ry="3.3" fill="#ff0000"/>
<ellipse cx="445.2" cy="187" rx="2.75" ry="3.3" fill="#ff0000"/>
<ellipse cx="449.3" cy="187" rx="2.75" ry="3.3" fill="#ff0000"/>
<ellipse cx="453.4" cy="181.8" rx="2.75" ry="3.3" fill="#ff0000"/>
<ellipse cx="457.5" cy="175.9" rx="2.75" ry="3.3" fill="#ff0000"/>
<ellipse cx="463.3" cy="175.9" rx="2.75" ry="3.3" fill="#ff0000"/>
<ellipse cx="467.4" cy="174.8" rx="2.75" ry="3.3" fill="#ff0000"/>
<ellipse cx="470.9" cy="167.2" rx="2.75" ry="3.3" fill="#ff0000"/>
<ellipse cx="476.7" cy="166.6" rx="2.75" ry="3.3" fill="#ff0000"/>
<ellipse cx="481.4" cy="163.1" rx="2.75" ry="3.3" fill="#ff0000"/>
<ellipse cx="484.9" cy="160.2" rx="2.75" ry="3.3" fill="#ff0000"/>
<ellipse cx="490.7" cy="159" rx="2.75" ry="3.3" fill="#ff0000"/>
<ellipse cx="496.6" cy="155.5" rx="2.75" ry="3.3" fill="#ff0000"/>
<ellipse cx="502.2" cy="151.2" rx="2.75" ry="3.3" fill="#ff0000"/>
<ellipse cx="508.8" cy="149.7" rx="2.75" ry="3.3" fill="#ff0000"/>
<ellipse cx="514.6" cy="148.3" rx="2.75" ry="3.3" fill="#ff0000"/>
<ellipse cx="521.9" cy="145.4" rx="2.75" ry="3.3" fill="#ff0000"/>
<ellipse cx="527" cy="141.7" rx="2.75" ry="3.3" fill="#ff0000"/>
<ellipse cx="531.4" cy="141" rx="2.75" ry="3.3" fill="#ff0000"/>
<ellipse cx="536.5" cy="140.3" rx="2.75" ry="3.3" fill="#ff0000"/>
<ellipse cx="540.9" cy="139.5" rx="2.75" ry="3.3" fill="#ff0000"/>
<ellipse cx="543.8" cy="134.4" rx="2.75" ry="3.3" fill="#ff0000"/>
<ellipse cx="548.2" cy="128.6" rx="2.75" ry="3.3" fill="#ff0000"/>
<ellipse cx="554" cy="124.9" rx="2.75" ry="3.3" fill="#ff0000"/>
<ellipse cx="558.4" cy="125.7" rx="2.75" ry="3.3" fill="#ff0000"/>
<ellipse cx="562" cy="119.1" rx="2.75" ry="3.3" fill="#ff0000"/>
<ellipse cx="567.9" cy="119.1" rx="2.75" ry="3.3" fill="#ff0000"/>
<ellipse cx="572.3" cy="116.2" rx="2.75" ry="3.3" fill="#ff0000"/>
<ellipse cx="575.9" cy="114" rx="2.75" ry="3.3" fill="#ff0000"/>
<ellipse cx="581" cy="114" rx="2.75" ry="3.3" fill="#ff0000"/>
<ellipse cx="586.1" cy="113.2" rx="2.75" ry="3.3" fill="#ff0000"/>
<ellipse cx="598.8" cy="112.3" rx="2.75" ry="3.3" fill="#ff0000"/>
<ellipse cx="607.4" cy="111.1" rx="2.75" ry="3.3" fill="#ff0000"/>
<ellipse cx="613" cy="109" rx="2.75" ry="3.3" fill="#ff0000"/>
<ellipse cx="617" cy="107.5" rx="2.75" ry="3.3" fill="#ff0000"/>
<ellipse cx="621.6" cy="106.3" rx="2.75" ry="3.3" fill="#ff0000"/>
<ellipse cx="625.4" cy="104.5" rx="2.75" ry="3.3" fill="#ff0000"/>
<ellipse cx="629.2" cy="102.5" rx="2.75" ry="3.3" fill="#ff0000"/>
<ellipse cx="632" cy="101" rx="2.75" ry="3.3" fill="#ff0000"/>
<ellipse cx="634.9" cy="99.7" rx="2.75" ry="3.3" fill="#ff0000"/>
<ellipse cx="639.6" cy="96.9" rx="2.75" ry="3.3" fill="#ff0000"/>
<ellipse cx="645.3" cy="84.5" rx="2.75" ry="3.3" fill="#ff0000"/>
<ellipse cx="649.1" cy="71.2" rx="2.75" ry="3.3" fill="#ff0000"/>
<ellipse cx="663.3" cy="31.4" rx="2.75" ry="3.3" fill="#ff0000"/>
<path d="M438.5 158L444.09 153.85L449.68 149.64L455.27 146.7L460.86 142.85L466.45 134.56L472.05 124.55L477.64 118.96L483.23 114.29L488.82 110.88L494.41 108.48L500 106.73L505.2 105.47L510.22 104.66L515.24 103.93L520.26 102.55L525.27 101.12L530.29 99.83L535.31 98.57L540.33 97.58L545.35 96.89L550.37 95.52L555.39 92.98L560.41 90.05L565.42 87.12L570.44 84.19L575.46 81.75L580.48 80.78L585.5 79.8L599 80.7L607.4 80.7L612.5 77.55L617.18 74.66L621.86 72.02L626.55 69.68L631.23 67.21L635.91 60.19L640.59 55.07L645.27 52.77L649.95 50.47L654.64 45.81L659.32 41.45L664 39.15" stroke="#00009a" stroke-width="0.5" fill="none"/>
<path d="M438.5 153.54L442.2 160.74L434.8 160.74Z" fill="#00009a"/>
<path d="M444.09 149.39L447.79 156.59L440.39 156.59Z" fill="#00009a"/>
<path d="M449.68 145.18L453.38 152.38L445.98 152.38Z" fill="#00009a"/>
<path d="M455.27 142.23L458.97 149.43L451.57 149.43Z" fill="#00009a"/>
<path d="M460.86 138.39L464.56 145.59L457.16 145.59Z" fill="#00009a"/>
<path d="M466.45 130.09L470.15 137.29L462.75 137.29Z" fill="#00009a"/>
<path d="M472.05 120.09L475.75 127.29L468.35 127.29Z" fill="#00009a"/>
<path d="M477.64 114.5L481.34 121.7L473.94 121.7Z" fill="#00009a"/>
<path d="M483.23 109.82L486.93 117.02L479.53 117.02Z" fill="#00009a"/>
<path d="M488.82 106.42L492.52 113.62L485.12 113.62Z" fill="#00009a"/>
<path d="M494.41 104.01L498.11 111.21L490.71 111.21Z" fill="#00009a"/>
<path d="M500 102.27L503.7 109.47L496.3 109.47Z" fill="#00009a"/>
<path d="M505.2 101.01L508.9 108.21L501.5 108.21Z" fill="#00009a"/>
<path d="M510.22 100.2L513.92 107.4L506.52 107.4Z" fill="#00009a"/>
<path d="M515.24 99.46L518.94 106.66L511.54 106.66Z" fill="#00009a"/>
<path d="M520.26 98.08L523.96 105.28L516.56 105.28Z" fill="#00009a"/>
<path d="M525.27 96.65L528.98 103.85L521.57 103.85Z" fill="#00009a"/>
<path d="M530.29 95.36L533.99 102.56L526.59 102.56Z" fill="#00009a"/>
<path d="M535.31 94.11L539.01 101.31L531.61 101.31Z" fill="#00009a"/>
<path d="M540.33 93.12L544.03 100.32L536.63 100.32Z" fill="#00009a"/>
<path d="M545.35 92.43L549.05 99.63L541.65 99.63Z" fill="#00009a"/>
<path d="M550.37 91.06L554.07 98.26L546.67 98.26Z" fill="#00009a"/>
<path d="M555.39 88.52L559.09 95.72L551.69 95.72Z" fill="#00009a"/>
<path d="M560.41 85.59L564.11 92.79L556.71 92.79Z" fill="#00009a"/>
<path d="M565.42 82.66L569.12 89.86L561.72 89.86Z" fill="#00009a"/>
<path d="M570.44 79.73L574.14 86.93L566.74 86.93Z" fill="#00009a"/>
<path d="M575.46 77.29L579.16 84.49L571.76 84.49Z" fill="#00009a"/>
<path d="M580.48 76.31L584.18 83.51L576.78 83.51Z" fill="#00009a"/>
<path d="M585.5 75.34L589.2 82.54L581.8 82.54Z" fill="#00009a"/>
<path d="M599 76.24L602.7 83.44L595.3 83.44Z" fill="#00009a"/>
<path d="M607.4 76.24L611.1 83.44L603.7 83.44Z" fill="#00009a"/>
<path d="M612.5 73.08L616.2 80.28L608.8 80.28Z" fill="#00009a"/>
<path d="M617.18 70.19L620.88 77.39L613.48 77.39Z" fill="#00009a"/>
<path d="M621.86 67.55L625.56 74.75L618.16 74.75Z" fill="#00009a"/>
<path d="M626.55 65.21L630.25 72.41L622.85 72.41Z" fill="#00009a"/>
<path d="M631.23 62.75L634.93 69.95L627.53 69.95Z" fill="#00009a"/>
<path d="M635.91 55.72L639.61 62.92L632.21 62.92Z" fill="#00009a"/>
<path d="M640.59 50.61L644.29 57.81L636.89 57.81Z" fill="#00009a"/>
<path d="M645.27 48.31L648.97 55.51L641.57 55.51Z" fill="#00009a"/>
<path d="M649.95 46.01L653.65 53.21L646.25 53.21Z" fill="#00009a"/>
<path d="M654.64 41.35L658.34 48.55L650.94 48.55Z" fill="#00009a"/>
<path d="M659.32 36.98L663.02 44.18L655.62 44.18Z" fill="#00009a"/>
<path d="M664 34.68L667.7 41.88L660.3 41.88Z" fill="#00009a"/>
<path d="M438.5 159.6L444.09 155.71L449.68 150.85L455.27 146.48L460.86 143.53L466.45 141.68L472.05 137.38L477.64 134.02L483.23 128.15L488.82 120.79L494.41 119.83L500 118.39L505.2 116.22L510.22 113.99L515.24 112.34L520.26 110.67L525.27 108.94L530.29 107.25L535.31 105.59L540.33 103.94L545.35 102.27L550.37 99.74L555.39 97.09L560.41 94.15L565.42 91.21L570.44 88.29L575.46 87.03L580.48 85.76L585.5 84.5L599 82.6L607.4 81.7L612.5 79.71L617.18 77.88L621.86 75.82L626.55 73.48L631.23 71.16L635.91 69.6L640.59 68.04L645.27 66.26L649.95 64.33L654.64 62.43L659.32 60.72L664 59.01" stroke="#0000ff" stroke-width="0.5" fill="none"/>
<path d="M438.5 164.06L442.2 156.86L434.8 156.86Z" fill="#0000ff"/>
<path d="M444.09 160.18L447.79 152.98L440.39 152.98Z" fill="#0000ff"/>
<path d="M449.68 155.31L453.38 148.11L445.98 148.11Z" fill="#0000ff"/>
<path d="M455.27 150.95L458.97 143.75L451.57 143.75Z" fill="#0000ff"/>
<path d="M460.86 147.99L464.56 140.79L457.16 140.79Z" fill="#0000ff"/>
<path d="M466.45 146.14L470.15 138.94L462.75 138.94Z" fill="#0000ff"/>
<path d="M472.05 141.84L475.75 134.64L468.35 134.64Z" fill="#0000ff"/>
<path d="M477.64 138.48L481.34 131.28L473.94 131.28Z" fill="#0000ff"/>
<path d="M483.23 132.62L486.93 125.42L479.53 125.42Z" fill="#0000ff"/>
<path d="M488.82 125.25L492.52 118.05L485.12 118.05Z" fill="#0000ff"/>
<path d="M494.41 124.29L498.11 117.09L490.71 117.09Z" fill="#0000ff"/>
<path d="M500 122.85L503.7 115.65L496.3 115.65Z" fill="#0000ff"/>
<path d="M505.2 120.69L508.9 113.49L501.5 113.49Z" fill="#0000ff"/>
<path d="M510.22 118.46L513.92 111.26L506.52 111.26Z" fill="#0000ff"/>
<path d="M515.24 116.8L518.94 109.6L511.54 109.6Z" fill="#0000ff"/>
<path d="M520.26 115.13L523.96 107.93L516.56 107.93Z" fill="#0000ff"/>
<path d="M525.27 113.4L528.98 106.2L521.57 106.2Z" fill="#0000ff"/>
<path d="M530.29 111.71L533.99 104.51L526.59 104.51Z" fill="#0000ff"/>
<path d="M535.31 110.06L539.01 102.86L531.61 102.86Z" fill="#0000ff"/>
<path d="M540.33 108.4L544.03 101.2L536.63 101.2Z" fill="#0000ff"/>
<path d="M545.35 106.74L549.05 99.54L541.65 99.54Z" fill="#0000ff"/>
<path d="M550.37 104.2L554.07 97L546.67 97Z" fill="#0000ff"/>
<path d="M555.39 101.55L559.09 94.35L551.69 94.35Z" fill="#0000ff"/>
<path d="M560.41 98.61L564.11 91.41L556.71 91.41Z" fill="#0000ff"/>
<path d="M565.42 95.68L569.12 88.48L561.72 88.48Z" fill="#0000ff"/>
<path d="M570.44 92.75L574.14 85.55L566.74 85.55Z" fill="#0000ff"/>
<path d="M575.46 91.49L579.16 84.29L571.76 84.29Z" fill="#0000ff"/>
<path d="M580.48 90.23L584.18 83.03L576.78 83.03Z" fill="#0000ff"/>
<path d="M585.5 88.96L589.2 81.76L581.8 81.76Z" fill="#0000ff"/>
<path d="M599 87.06L602.7 79.86L595.3 79.86Z" fill="#0000ff"/>
<path d="M607.4 86.16L611.1 78.96L603.7 78.96Z" fill="#0000ff"/>
<path d="M612.5 84.17L616.2 76.97L608.8 76.97Z" fill="#0000ff"/>
<path d="M617.18 82.35L620.88 75.15L613.48 75.15Z" fill="#0000ff"/>
<path d="M621.86 80.28L625.56 73.08L618.16 73.08Z" fill="#0000ff"/>
<path d="M626.55 77.94L630.25 70.74L622.85 70.74Z" fill="#0000ff"/>
<path d="M631.23 75.62L634.93 68.42L627.53 68.42Z" fill="#0000ff"/>
<path d="M635.91 74.06L639.61 66.86L632.21 66.86Z" fill="#0000ff"/>
<path d="M640.59 72.5L644.29 65.3L636.89 65.3Z" fill="#0000ff"/>
<path d="M645.27 70.72L648.97 63.52L641.57 63.52Z" fill="#0000ff"/>
<path d="M649.95 68.79L653.65 61.59L646.25 61.59Z" fill="#0000ff"/>
<path d="M654.64 66.89L658.34 59.69L650.94 59.69Z" fill="#0000ff"/>
<path d="M659.32 65.18L663.02 57.98L655.62 57.98Z" fill="#0000ff"/>
<path d="M664 63.47L667.7 56.27L660.3 56.27Z" fill="#0000ff"/>
<path d="M438.5 166L444.09 165.16L449.68 164.8L455.27 154.75L460.86 150.72L466.45 149.65L472.05 148.45L477.64 147.25L483.23 146.07L488.82 144.96L494.41 144.15L500 133.02L505.2 129.12L510.22 128.1L515.24 121.45L520.26 114.27L525.27 112.58L530.29 113.61L535.31 114.57L540.33 112.52L545.35 110.63L550.37 109.12L555.39 108.43L560.41 107.5L565.42 105.98L570.44 104.54L575.46 102.57L580.48 97.64L585.5 91.2L599 87.4L607.4 86.4L612.5 84.82L617.18 83.38L621.86 81.3L626.55 78.49L631.23 73.86L635.91 66.84L640.59 63.62L645.27 61.31L649.95 59.45L654.64 56.96L659.32 50.33L664 44.7" stroke="#008000" stroke-width="0.5" fill="none"/>
<path d="M438.5 161.5L442.5 166L438.5 170.5L434.5 166Z" fill="#008000"/>
<path d="M444.09 160.66L448.09 165.16L444.09 169.66L440.09 165.16Z" fill="#008000"/>
<path d="M449.68 160.3L453.68 164.8L449.68 169.3L445.68 164.8Z" fill="#008000"/>
<path d="M455.27 150.25L459.27 154.75L455.27 159.25L451.27 154.75Z" fill="#008000"/>
<path d="M460.86 146.22L464.86 150.72L460.86 155.22L456.86 150.72Z" fill="#008000"/>
<path d="M466.45 145.15L470.45 149.65L466.45 154.15L462.45 149.65Z" fill="#008000"/>
<path d="M472.05 143.95L476.05 148.45L472.05 152.95L468.05 148.45Z" fill="#008000"/>
<path d="M477.64 142.75L481.64 147.25L477.64 151.75L473.64 147.25Z" fill="#008000"/>
<path d="M483.23 141.57L487.23 146.07L483.23 150.57L479.23 146.07Z" fill="#008000"/>
<path d="M488.82 140.46L492.82 144.96L488.82 149.46L484.82 144.96Z" fill="#008000"/>
<path d="M494.41 139.65L498.41 144.15L494.41 148.65L490.41 144.15Z" fill="#008000"/>
<path d="M500 128.52L504 133.02L500 137.52L496 133.02Z" fill="#008000"/>
<path d="M505.2 124.62L509.2 129.12L505.2 133.62L501.2 129.12Z" fill="#008000"/>
<path d="M510.22 123.6L514.22 128.1L510.22 132.6L506.22 128.1Z" fill="#008000"/>
<path d="M515.24 116.95L519.24 121.45L515.24 125.95L511.24 121.45Z" fill="#008000"/>
<path d="M520.26 109.77L524.26 114.27L520.26 118.77L516.26 114.27Z" fill="#008000"/>
<path d="M525.27 108.08L529.27 112.58L525.27 117.08L521.27 112.58Z" fill="#008000"/>
<path d="M530.29 109.11L534.29 113.61L530.29 118.11L526.29 113.61Z" fill="#008000"/>
<path d="M535.31 110.07L539.31 114.57L535.31 119.07L531.31 114.57Z" fill="#008000"/>
<path d="M540.33 108.02L544.33 112.52L540.33 117.02L536.33 112.52Z" fill="#008000"/>
<path d="M545.35 106.13L549.35 110.63L545.35 115.13L541.35 110.63Z" fill="#008000"/>
<path d="M550.37 104.62L554.37 109.12L550.37 113.62L546.37 109.12Z" fill="#008000"/>
<path d="M555.39 103.93L559.39 108.43L555.39 112.93L551.39 108.43Z" fill="#008000"/>
<path d="M560.41 103L564.41 107.5L560.41 112L556.41 107.5Z" fill="#008000"/>
<path d="M565.42 101.48L569.42 105.98L565.42 110.48L561.42 105.98Z" fill="#008000"/>
<path d="M570.44 100.04L574.44 104.54L570.44 109.04L566.44 104.54Z" fill="#008000"/>
<path d="M575.46 98.07L579.46 102.57L575.46 107.07L571.46 102.57Z" fill="#008000"/>
<path d="M580.48 93.14L584.48 97.64L580.48 102.14L576.48 97.64Z" fill="#008000"/>
<path d="M585.5 86.7L589.5 91.2L585.5 95.7L581.5 91.2Z" fill="#008000"/>
<path d="M599 82.9L603 87.4L599 91.9L595 87.4Z" fill="#008000"/>
<path d="M607.4 81.9L611.4 86.4L607.4 90.9L603.4 86.4Z" fill="#008000"/>
<path d="M612.5 80.32L616.5 84.82L612.5 89.32L608.5 84.82Z" fill="#008000"/>
<path d="M617.18 78.88L621.18 83.38L617.18 87.88L613.18 83.38Z" fill="#008000"/>
<path d="M621.86 76.8L625.86 81.3L621.86 85.8L617.86 81.3Z" fill="#008000"/>
<path d="M626.55 73.99L630.55 78.49L626.55 82.99L622.55 78.49Z" fill="#008000"/>
<path d="M631.23 69.36L635.23 73.86L631.23 78.36L627.23 73.86Z" fill="#008000"/>
<path d="M635.91 62.34L639.91 66.84L635.91 71.34L631.91 66.84Z" fill="#008000"/>
<path d="M640.59 59.12L644.59 63.62L640.59 68.12L636.59 63.62Z" fill="#008000"/>
<path d="M645.27 56.81L649.27 61.31L645.27 65.81L641.27 61.31Z" fill="#008000"/>
<path d="M649.95 54.95L653.95 59.45L649.95 63.95L645.95 59.45Z" fill="#008000"/>
<path d="M654.64 52.46L658.64 56.96L654.64 61.46L650.64 56.96Z" fill="#008000"/>
<path d="M659.32 45.83L663.32 50.33L659.32 54.83L655.32 50.33Z" fill="#008000"/>
<path d="M664 40.2L668 44.7L664 49.2L660 44.7Z" fill="#008000"/>
<path d="M438.5 170.1L444.09 169.6L449.68 161.14L455.27 158.83L460.86 153.05L466.45 149.6L472.05 148.01L477.64 145.86L483.23 143.54L488.82 141.22L494.41 139.55L500 137.3L505.2 123.55L510.22 121.27L515.24 118.82L520.26 117.55L525.27 116.47L530.29 115.14L535.31 111.87L540.33 110.31L545.35 108.98L550.37 106.99L555.39 105L560.41 103.2L565.42 101.68L570.44 100.63L575.46 99.36L580.48 97.88L585.5 97.27L599 93.1L607.4 92.1L612.5 88.16L617.18 84.54L621.86 80.87L626.55 77.12L631.23 72.57L635.91 66.95L640.59 62.34L645.27 59.22L649.95 56.1L654.64 52.81L659.32 49.53L664 41.43" stroke="#800000" stroke-width="0.5" fill="none"/>
<path d="M434.53 170.1L440.93 165.8L440.93 174.4Z" fill="#800000"/>
<path d="M440.12 169.6L446.52 165.3L446.52 173.9Z" fill="#800000"/>
<path d="M445.71 161.14L452.11 156.84L452.11 165.44Z" fill="#800000"/>
<path d="M451.3 158.83L457.7 154.53L457.7 163.13Z" fill="#800000"/>
<path d="M456.9 153.05L463.3 148.75L463.3 157.35Z" fill="#800000"/>
<path d="M462.49 149.6L468.89 145.3L468.89 153.9Z" fill="#800000"/>
<path d="M468.08 148.01L474.48 143.71L474.48 152.31Z" fill="#800000"/>
<path d="M473.67 145.86L480.07 141.56L480.07 150.16Z" fill="#800000"/>
<path d="M479.26 143.54L485.66 139.24L485.66 147.84Z" fill="#800000"/>
<path d="M484.85 141.22L491.25 136.92L491.25 145.52Z" fill="#800000"/>
<path d="M490.44 139.55L496.84 135.25L496.84 143.85Z" fill="#800000"/>
<path d="M496.03 137.3L502.43 133L502.43 141.6Z" fill="#800000"/>
<path d="M501.23 123.55L507.63 119.25L507.63 127.85Z" fill="#800000"/>
<path d="M506.25 121.27L512.65 116.97L512.65 125.57Z" fill="#800000"/>
<path d="M511.27 118.82L517.67 114.52L517.67 123.12Z" fill="#800000"/>
<path d="M516.29 117.55L522.69 113.25L522.69 121.85Z" fill="#800000"/>
<path d="M521.31 116.47L527.71 112.17L527.71 120.77Z" fill="#800000"/>
<path d="M526.33 115.14L532.73 110.84L532.73 119.44Z" fill="#800000"/>
<path d="M531.34 111.87L537.74 107.57L537.74 116.17Z" fill="#800000"/>
<path d="M536.36 110.31L542.76 106.01L542.76 114.61Z" fill="#800000"/>
<path d="M541.38 108.98L547.78 104.68L547.78 113.28Z" fill="#800000"/>
<path d="M546.4 106.99L552.8 102.69L552.8 111.29Z" fill="#800000"/>
<path d="M551.42 105L557.82 100.7L557.82 109.3Z" fill="#800000"/>
<path d="M556.44 103.2L562.84 98.9L562.84 107.5Z" fill="#800000"/>
<path d="M561.46 101.68L567.86 97.38L567.86 105.98Z" fill="#800000"/>
<path d="M566.48 100.63L572.88 96.33L572.88 104.93Z" fill="#800000"/>
<path d="M571.49 99.36L577.89 95.06L577.89 103.66Z" fill="#800000"/>
<path d="M576.51 97.88L582.91 93.58L582.91 102.18Z" fill="#800000"/>
<path d="M581.53 97.27L587.93 92.97L587.93 101.57Z" fill="#800000"/>
<path d="M595.03 93.1L601.43 88.8L601.43 97.4Z" fill="#800000"/>
<path d="M603.43 92.1L609.83 87.8L609.83 96.4Z" fill="#800000"/>
<path d="M608.53 88.16L614.93 83.86L614.93 92.46Z" fill="#800000"/>
<path d="M613.21 84.54L619.61 80.24L619.61 88.84Z" fill="#800000"/>
<path d="M617.9 80.87L624.3 76.57L624.3 85.17Z" fill="#800000"/>
<path d="M622.58 77.12L628.98 72.82L628.98 81.42Z" fill="#800000"/>
<path d="M627.26 72.57L633.66 68.27L633.66 76.87Z" fill="#800000"/>
<path d="M631.94 66.95L638.34 62.65L638.34 71.25Z" fill="#800000"/>
<path d="M636.62 62.34L643.02 58.04L643.02 66.64Z" fill="#800000"/>
<path d="M641.3 59.22L647.7 54.92L647.7 63.52Z" fill="#800000"/>
<path d="M645.99 56.1L652.39 51.8L652.39 60.4Z" fill="#800000"/>
<path d="M650.67 52.81L657.07 48.51L657.07 57.11Z" fill="#800000"/>
<path d="M655.35 49.53L661.75 45.23L661.75 53.83Z" fill="#800000"/>
<path d="M660.03 41.43L666.43 37.13L666.43 45.73Z" fill="#800000"/>
<rect x="52" y="318.6" width="274.5" height="255.9" fill="none" stroke="#000" stroke-width="3.0"/>
<text x="52" y="591.5" font-size="11" font-weight="bold" text-anchor="middle">1</text>
<text x="97.75" y="591.5" font-size="11" font-weight="bold" text-anchor="middle">2</text>
<text x="143.5" y="591.5" font-size="11" font-weight="bold" text-anchor="middle">3</text>
<text x="189.25" y="591.5" font-size="11" font-weight="bold" text-anchor="middle">4</text>
<text x="235" y="591.5" font-size="11" font-weight="bold" text-anchor="middle">5</text>
<text x="280.75" y="591.5" font-size="11" font-weight="bold" text-anchor="middle">6</text>
<text x="326.5" y="591.5" font-size="11" font-weight="bold" text-anchor="middle">7</text>
<text x="45.5" y="322.2" font-size="11.5" font-weight="bold" text-anchor="end">-3.0</text>
<text x="45.5" y="373.38" font-size="11.5" font-weight="bold" text-anchor="end">-3.5</text>
<text x="45.5" y="424.56" font-size="11.5" font-weight="bold" text-anchor="end">-4.0</text>
<text x="45.5" y="475.74" font-size="11.5" font-weight="bold" text-anchor="end">-4.5</text>
<text x="45.5" y="526.92" font-size="11.5" font-weight="bold" text-anchor="end">-5.0</text>
<text x="45.5" y="578.1" font-size="11.5" font-weight="bold" text-anchor="end">-5.5</text>
<path d="M52 574.5V579.5M74.88 574.5V577.7M97.75 574.5V579.5M120.62 574.5V577.7M143.5 574.5V579.5M166.38 574.5V577.7M189.25 574.5V579.5M212.12 574.5V577.7M235 574.5V579.5M257.88 574.5V577.7M280.75 574.5V579.5M303.62 574.5V577.7M326.5 574.5V579.5M52 318.6H47.5M52 344.19H49M52 369.78H47.5M52 395.37H49M52 420.96H47.5M52 446.55H49M52 472.14H47.5M52 497.73H49M52 523.32H47.5M52 548.91H49M52 574.5H47.5" stroke="#000" stroke-width="2.4" stroke-linecap="round" fill="none"/>
<path d="M92.3 490.8L97.81 489.64L103.32 483.28L108.82 477.78L114.33 471.84L119.84 466.31L125.35 461.25L130.85 455.77L136.36 452.48L141.87 448.81L147.38 444.86L152.88 442.11L158.39 439.48L163.9 437.26L169.41 435.02L174.92 432.77L180.42 430.47L185.93 428.16L191.44 416.16L196.95 422.22L202.45 422.86L207.96 422.06L213.47 419.89L218.98 416.92L224.48 415L229.99 414.71L235.5 406.4L248.8 407.4L256.4 412.1L262.1 401.7L266.63 407.08L271.17 408.09L275.7 408.78L280.23 407.74L284.77 400.9L289.3 404.26L293.83 403.71L298.37 406.81L302.9 402.6" stroke="#000000" stroke-width="0.5" fill="none"/>
<rect x="89.7" y="487.65" width="5.2" height="6.3" fill="#000000"/>
<rect x="95.21" y="486.49" width="5.2" height="6.3" fill="#000000"/>
<rect x="100.72" y="480.13" width="5.2" height="6.3" fill="#000000"/>
<rect x="106.22" y="474.63" width="5.2" height="6.3" fill="#000000"/>
<rect x="111.73" y="468.69" width="5.2" height="6.3" fill="#000000"/>
<rect x="117.24" y="463.16" width="5.2" height="6.3" fill="#000000"/>
<rect x="122.75" y="458.1" width="5.2" height="6.3" fill="#000000"/>
<rect x="128.25" y="452.62" width="5.2" height="6.3" fill="#000000"/>
<rect x="133.76" y="449.33" width="5.2" height="6.3" fill="#000000"/>
<rect x="139.27" y="445.66" width="5.2" height="6.3" fill="#000000"/>
<rect x="144.78" y="441.71" width="5.2" height="6.3" fill="#000000"/>
<rect x="150.28" y="438.96" width="5.2" height="6.3" fill="#000000"/>
<rect x="155.79" y="436.33" width="5.2" height="6.3" fill="#000000"/>
<rect x="161.3" y="434.11" width="5.2" height="6.3" fill="#000000"/>
<rect x="166.81" y="431.87" width="5.2" height="6.3" fill="#000000"/>
<rect x="172.32" y="429.62" width="5.2" height="6.3" fill="#000000"/>
<rect x="177.82" y="427.32" width="5.2" height="6.3" fill="#000000"/>
<rect x="183.33" y="425.01" width="5.2" height="6.3" fill="#000000"/>
<rect x="188.84" y="413.01" width="5.2" height="6.3" fill="#000000"/>
<rect x="194.35" y="419.07" width="5.2" height="6.3" fill="#000000"/>
<rect x="199.85" y="419.71" width="5.2" height="6.3" fill="#000000"/>
<rect x="205.36" y="418.91" width="5.2" height="6.3" fill="#000000"/>
<rect x="210.87" y="416.74" width="5.2" height="6.3" fill="#000000"/>
<rect x="216.38" y="413.77" width="5.2" height="6.3" fill="#000000"/>
<rect x="221.88" y="411.85" width="5.2" height="6.3" fill="#000000"/>
<rect x="227.39" y="411.56" width="5.2" height="6.3" fill="#000000"/>
<rect x="232.9" y="403.25" width="5.2" height="6.3" fill="#000000"/>
<rect x="246.2" y="404.25" width="5.2" height="6.3" fill="#000000"/>
<rect x="253.8" y="408.95" width="5.2" height="6.3" fill="#000000"/>
<rect x="259.5" y="398.55" width="5.2" height="6.3" fill="#000000"/>
<rect x="264.03" y="403.93" width="5.2" height="6.3" fill="#000000"/>
<rect x="268.57" y="404.94" width="5.2" height="6.3" fill="#000000"/>
<rect x="273.1" y="405.63" width="5.2" height="6.3" fill="#000000"/>
<rect x="277.63" y="404.59" width="5.2" height="6.3" fill="#000000"/>
<rect x="282.17" y="397.75" width="5.2" height="6.3" fill="#000000"/>
<rect x="286.7" y="401.11" width="5.2" height="6.3" fill="#000000"/>
<rect x="291.23" y="400.56" width="5.2" height="6.3" fill="#000000"/>
<rect x="295.77" y="403.66" width="5.2" height="6.3" fill="#000000"/>
<rect x="300.3" y="399.45" width="5.2" height="6.3" fill="#000000"/>
<path d="M92.3 469.3L96.92 465.21L101.54 460.86L106.16 456.24L110.78 452.5L115.4 448.77L120.02 444.9L124.64 441.02L129.25 437.64L133.87 434.38L138.49 431.15L143.11 428.16L147.73 425.17L152.35 422.53L156.97 420.24L161.59 417.95L166.21 415.92L170.83 413.92L175.45 411.94L180.07 409.97L184.69 408L189.31 406.05L193.93 404.11L198.55 402.39L203.16 401.22L207.78 400.06L212.4 398.9L217.02 398.38L221.64 397.93L226.26 397.47L230.88 396.99L235.5 396.5L248.2 386.5L256.9 385.5L262.1 384.3L266.63 382.43L271.17 380.63L275.7 379.28L280.23 378.03L284.77 376.84L289.3 375.64L293.83 374.29L298.37 372.58L302.9 370.8" stroke="#800000" stroke-width="0.5" fill="none"/>
<path d="M88.33 469.3L94.73 465L94.73 473.6Z" fill="#800000"/>
<path d="M92.95 465.21L99.35 460.91L99.35 469.51Z" fill="#800000"/>
<path d="M97.57 460.86L103.97 456.56L103.97 465.16Z" fill="#800000"/>
<path d="M102.19 456.24L108.59 451.94L108.59 460.54Z" fill="#800000"/>
<path d="M106.81 452.5L113.21 448.2L113.21 456.8Z" fill="#800000"/>
<path d="M111.43 448.77L117.83 444.47L117.83 453.07Z" fill="#800000"/>
<path d="M116.05 444.9L122.45 440.6L122.45 449.2Z" fill="#800000"/>
<path d="M120.67 441.02L127.07 436.72L127.07 445.32Z" fill="#800000"/>
<path d="M125.29 437.64L131.69 433.34L131.69 441.94Z" fill="#800000"/>
<path d="M129.91 434.38L136.31 430.08L136.31 438.68Z" fill="#800000"/>
<path d="M134.53 431.15L140.93 426.85L140.93 435.45Z" fill="#800000"/>
<path d="M139.14 428.16L145.54 423.86L145.54 432.46Z" fill="#800000"/>
<path d="M143.76 425.17L150.16 420.87L150.16 429.47Z" fill="#800000"/>
<path d="M148.38 422.53L154.78 418.23L154.78 426.83Z" fill="#800000"/>
<path d="M153 420.24L159.4 415.94L159.4 424.54Z" fill="#800000"/>
<path d="M157.62 417.95L164.02 413.65L164.02 422.25Z" fill="#800000"/>
<path d="M162.24 415.92L168.64 411.62L168.64 420.22Z" fill="#800000"/>
<path d="M166.86 413.92L173.26 409.62L173.26 418.22Z" fill="#800000"/>
<path d="M171.48 411.94L177.88 407.64L177.88 416.24Z" fill="#800000"/>
<path d="M176.1 409.97L182.5 405.67L182.5 414.27Z" fill="#800000"/>
<path d="M180.72 408L187.12 403.7L187.12 412.3Z" fill="#800000"/>
<path d="M185.34 406.05L191.74 401.75L191.74 410.35Z" fill="#800000"/>
<path d="M189.96 404.11L196.36 399.81L196.36 408.41Z" fill="#800000"/>
<path d="M194.58 402.39L200.98 398.09L200.98 406.69Z" fill="#800000"/>
<path d="M199.2 401.22L205.6 396.92L205.6 405.52Z" fill="#800000"/>
<path d="M203.82 400.06L210.22 395.76L210.22 404.36Z" fill="#800000"/>
<path d="M208.44 398.9L214.84 394.6L214.84 403.2Z" fill="#800000"/>
<path d="M213.05 398.38L219.45 394.08L219.45 402.68Z" fill="#800000"/>
<path d="M217.67 397.93L224.07 393.63L224.07 402.23Z" fill="#800000"/>
<path d="M222.29 397.47L228.69 393.17L228.69 401.77Z" fill="#800000"/>
<path d="M226.91 396.99L233.31 392.69L233.31 401.29Z" fill="#800000"/>
<path d="M231.53 396.5L237.93 392.2L237.93 400.8Z" fill="#800000"/>
<path d="M244.23 386.5L250.63 382.2L250.63 390.8Z" fill="#800000"/>
<path d="M252.93 385.5L259.33 381.2L259.33 389.8Z" fill="#800000"/>
<path d="M258.13 384.3L264.53 380L264.53 388.6Z" fill="#800000"/>
<path d="M262.67 382.43L269.07 378.13L269.07 386.73Z" fill="#800000"/>
<path d="M267.2 380.63L273.6 376.33L273.6 384.93Z" fill="#800000"/>
<path d="M271.73 379.28L278.13 374.98L278.13 383.58Z" fill="#800000"/>
<path d="M276.27 378.03L282.67 373.73L282.67 382.33Z" fill="#800000"/>
<path d="M280.8 376.84L287.2 372.54L287.2 381.14Z" fill="#800000"/>
<path d="M285.33 375.64L291.73 371.34L291.73 379.94Z" fill="#800000"/>
<path d="M289.87 374.29L296.27 369.99L296.27 378.59Z" fill="#800000"/>
<path d="M294.4 372.58L300.8 368.28L300.8 376.88Z" fill="#800000"/>
<path d="M298.93 370.8L305.33 366.5L305.33 375.1Z" fill="#800000"/>
<path d="M92.3 475.1L96.92 471.6L101.54 468.14L106.16 464.71L110.78 460.07L115.4 455.47L120.02 451.64L124.64 447.82L129.25 444.41L133.87 441.11L138.49 437.9L143.11 435.25L147.73 432.6L152.35 430.12L156.97 427.81L161.59 425.5L166.21 423.2L170.83 420.89L175.45 418.95L180.07 417.3L184.69 415.65L189.31 414.15L193.93 412.67L198.55 411.39L203.16 410.23L207.78 409.08L212.4 407.75L217.02 406.04L221.64 405.5L226.26 403.73L230.88 401.06L235.5 402.6L248.2 392.4L256.9 391.4L262.1 393.72L266.63 393.07L271.17 391.6L275.7 388.5L280.23 386.11L284.77 385L289.3 384.64L293.83 383.73L298.37 380.72L302.9 377.67" stroke="#ff0000" stroke-width="0.5" fill="none"/>
<ellipse cx="92.3" cy="475.1" rx="2.75" ry="3.3" fill="#ff0000"/>
<ellipse cx="96.92" cy="471.6" rx="2.75" ry="3.3" fill="#ff0000"/>
<ellipse cx="101.54" cy="468.14" rx="2.75" ry="3.3" fill="#ff0000"/>
<ellipse cx="106.16" cy="464.71" rx="2.75" ry="3.3" fill="#ff0000"/>
<ellipse cx="110.78" cy="460.07" rx="2.75" ry="3.3" fill="#ff0000"/>
<ellipse cx="115.4" cy="455.47" rx="2.75" ry="3.3" fill="#ff0000"/>
<ellipse cx="120.02" cy="451.64" rx="2.75" ry="3.3" fill="#ff0000"/>
<ellipse cx="124.64" cy="447.82" rx="2.75" ry="3.3" fill="#ff0000"/>
<ellipse cx="129.25" cy="444.41" rx="2.75" ry="3.3" fill="#ff0000"/>
<ellipse cx="133.87" cy="441.11" rx="2.75" ry="3.3" fill="#ff0000"/>
<ellipse cx="138.49" cy="437.9" rx="2.75" ry="3.3" fill="#ff0000"/>
<ellipse cx="143.11" cy="435.25" rx="2.75" ry="3.3" fill="#ff0000"/>
<ellipse cx="147.73" cy="432.6" rx="2.75" ry="3.3" fill="#ff0000"/>
<ellipse cx="152.35" cy="430.12" rx="2.75" ry="3.3" fill="#ff0000"/>
<ellipse cx="156.97" cy="427.81" rx="2.75" ry="3.3" fill="#ff0000"/>
<ellipse cx="161.59" cy="425.5" rx="2.75" ry="3.3" fill="#ff0000"/>
<ellipse cx="166.21" cy="423.2" rx="2.75" ry="3.3" fill="#ff0000"/>
<ellipse cx="170.83" cy="420.89" rx="2.75" ry="3.3" fill="#ff0000"/>
<ellipse cx="175.45" cy="418.95" rx="2.75" ry="3.3" fill="#ff0000"/>
<ellipse cx="180.07" cy="417.3" rx="2.75" ry="3.3" fill="#ff0000"/>
<ellipse cx="184.69" cy="415.65" rx="2.75" ry="3.3" fill="#ff0000"/>
<ellipse cx="189.31" cy="414.15" rx="2.75" ry="3.3" fill="#ff0000"/>
<ellipse cx="193.93" cy="412.67" rx="2.75" ry="3.3" fill="#ff0000"/>
<ellipse cx="198.55" cy="411.39" rx="2.75" ry="3.3" fill="#ff0000"/>
<ellipse cx="203.16" cy="410.23" rx="2.75" ry="3.3" fill="#ff0000"/>
<ellipse cx="207.78" cy="409.08" rx="2.75" ry="3.3" fill="#ff0000"/>
<ellipse cx="212.4" cy="407.75" rx="2.75" ry="3.3" fill="#ff0000"/>
<ellipse cx="217.02" cy="406.04" rx="2.75" ry="3.3" fill="#ff0000"/>
<ellipse cx="221.64" cy="405.5" rx="2.75" ry="3.3" fill="#ff0000"/>
<ellipse cx="226.26" cy="403.73" rx="2.75" ry="3.3" fill="#ff0000"/>
<ellipse cx="230.88" cy="401.06" rx="2.75" ry="3.3" fill="#ff0000"/>
<ellipse cx="235.5" cy="402.6" rx="2.75" ry="3.3" fill="#ff0000"/>
<ellipse cx="248.2" cy="392.4" rx="2.75" ry="3.3" fill="#ff0000"/>
<ellipse cx="256.9" cy="391.4" rx="2.75" ry="3.3" fill="#ff0000"/>
<ellipse cx="262.1" cy="393.72" rx="2.75" ry="3.3" fill="#ff0000"/>
<ellipse cx="266.63" cy="393.07" rx="2.75" ry="3.3" fill="#ff0000"/>
<ellipse cx="271.17" cy="391.6" rx="2.75" ry="3.3" fill="#ff0000"/>
<ellipse cx="275.7" cy="388.5" rx="2.75" ry="3.3" fill="#ff0000"/>
<ellipse cx="280.23" cy="386.11" rx="2.75" ry="3.3" fill="#ff0000"/>
<ellipse cx="284.77" cy="385" rx="2.75" ry="3.3" fill="#ff0000"/>
<ellipse cx="289.3" cy="384.64" rx="2.75" ry="3.3" fill="#ff0000"/>
<ellipse cx="293.83" cy="383.73" rx="2.75" ry="3.3" fill="#ff0000"/>
<ellipse cx="298.37" cy="380.72" rx="2.75" ry="3.3" fill="#ff0000"/>
<ellipse cx="302.9" cy="377.67" rx="2.75" ry="3.3" fill="#ff0000"/>
<path d="M92.3 464.5L96.92 460.41L101.54 456.06L106.16 451.44L110.78 447.7L115.4 443.97L120.02 440.1L124.64 436.22L129.25 432.84L133.87 429.58L138.49 426.35L143.11 423.36L147.73 420.37L152.35 417.73L156.97 415.44L161.59 413.15L166.21 411.12L170.83 409.12L175.45 407.14L180.07 405.17L184.69 403.2L189.31 401.25L193.93 399.31L198.55 397.59L203.16 396.42L207.78 395.26L212.4 394.1L217.02 392.96L221.64 391.83L226.26 390.67L230.88 389.49L235.5 388.3L248.2 381.7L256.9 380.7L262.1 378L266.63 376.13L271.17 374.3L275.7 372.72L280.23 371.13L284.77 369.55L289.3 367.8L293.83 366.04L298.37 364.28L302.9 361" stroke="#008000" stroke-width="0.5" fill="none"/>
<path d="M92.3 460L96.3 464.5L92.3 469L88.3 464.5Z" fill="#008000"/>
<path d="M96.92 455.91L100.92 460.41L96.92 464.91L92.92 460.41Z" fill="#008000"/>
<path d="M101.54 451.56L105.54 456.06L101.54 460.56L97.54 456.06Z" fill="#008000"/>
<path d="M106.16 446.94L110.16 451.44L106.16 455.94L102.16 451.44Z" fill="#008000"/>
<path d="M110.78 443.2L114.78 447.7L110.78 452.2L106.78 447.7Z" fill="#008000"/>
<path d="M115.4 439.47L119.4 443.97L115.4 448.47L111.4 443.97Z" fill="#008000"/>
<path d="M120.02 435.6L124.02 440.1L120.02 444.6L116.02 440.1Z" fill="#008000"/>
<path d="M124.64 431.72L128.64 436.22L124.64 440.72L120.64 436.22Z" fill="#008000"/>
<path d="M129.25 428.34L133.25 432.84L129.25 437.34L125.25 432.84Z" fill="#008000"/>
<path d="M133.87 425.08L137.87 429.58L133.87 434.08L129.87 429.58Z" fill="#008000"/>
<path d="M138.49 421.85L142.49 426.35L138.49 430.85L134.49 426.35Z" fill="#008000"/>
<path d="M143.11 418.86L147.11 423.36L143.11 427.86L139.11 423.36Z" fill="#008000"/>
<path d="M147.73 415.87L151.73 420.37L147.73 424.87L143.73 420.37Z" fill="#008000"/>
<path d="M152.35 413.23L156.35 417.73L152.35 422.23L148.35 417.73Z" fill="#008000"/>
<path d="M156.97 410.94L160.97 415.44L156.97 419.94L152.97 415.44Z" fill="#008000"/>
<path d="M161.59 408.65L165.59 413.15L161.59 417.65L157.59 413.15Z" fill="#008000"/>
<path d="M166.21 406.62L170.21 411.12L166.21 415.62L162.21 411.12Z" fill="#008000"/>
<path d="M170.83 404.62L174.83 409.12L170.83 413.62L166.83 409.12Z" fill="#008000"/>
<path d="M175.45 402.64L179.45 407.14L175.45 411.64L171.45 407.14Z" fill="#008000"/>
<path d="M180.07 400.67L184.07 405.17L180.07 409.67L176.07 405.17Z" fill="#008000"/>
<path d="M184.69 398.7L188.69 403.2L184.69 407.7L180.69 403.2Z" fill="#008000"/>
<path d="M189.31 396.75L193.31 401.25L189.31 405.75L185.31 401.25Z" fill="#008000"/>
<path d="M193.93 394.81L197.93 399.31L193.93 403.81L189.93 399.31Z" fill="#008000"/>
<path d="M198.55 393.09L202.55 397.59L198.55 402.09L194.55 397.59Z" fill="#008000"/>
<path d="M203.16 391.92L207.16 396.42L203.16 400.92L199.16 396.42Z" fill="#008000"/>
<path d="M207.78 390.76L211.78 395.26L207.78 399.76L203.78 395.26Z" fill="#008000"/>
<path d="M212.4 389.6L216.4 394.1L212.4 398.6L208.4 394.1Z" fill="#008000"/>
<path d="M217.02 388.46L221.02 392.96L217.02 397.46L213.02 392.96Z" fill="#008000"/>
<path d="M221.64 387.33L225.64 391.83L221.64 396.33L217.64 391.83Z" fill="#008000"/>
<path d="M226.26 386.17L230.26 390.67L226.26 395.17L222.26 390.67Z" fill="#008000"/>
<path d="M230.88 384.99L234.88 389.49L230.88 393.99L226.88 389.49Z" fill="#008000"/>
<path d="M235.5 383.8L239.5 388.3L235.5 392.8L231.5 388.3Z" fill="#008000"/>
<path d="M248.2 377.2L252.2 381.7L248.2 386.2L244.2 381.7Z" fill="#008000"/>
<path d="M256.9 376.2L260.9 380.7L256.9 385.2L252.9 380.7Z" fill="#008000"/>
<path d="M262.1 373.5L266.1 378L262.1 382.5L258.1 378Z" fill="#008000"/>
<path d="M266.63 371.63L270.63 376.13L266.63 380.63L262.63 376.13Z" fill="#008000"/>
<path d="M271.17 369.8L275.17 374.3L271.17 378.8L267.17 374.3Z" fill="#008000"/>
<path d="M275.7 368.22L279.7 372.72L275.7 377.22L271.7 372.72Z" fill="#008000"/>
<path d="M280.23 366.63L284.23 371.13L280.23 375.63L276.23 371.13Z" fill="#008000"/>
<path d="M284.77 365.05L288.77 369.55L284.77 374.05L280.77 369.55Z" fill="#008000"/>
<path d="M289.3 363.3L293.3 367.8L289.3 372.3L285.3 367.8Z" fill="#008000"/>
<path d="M293.83 361.54L297.83 366.04L293.83 370.54L289.83 366.04Z" fill="#008000"/>
<path d="M298.37 359.78L302.37 364.28L298.37 368.78L294.37 364.28Z" fill="#008000"/>
<path d="M302.9 356.5L306.9 361L302.9 365.5L298.9 361Z" fill="#008000"/>
<path d="M92.3 467.5L96.92 463.41L101.54 459.06L106.16 454.44L110.78 450.7L115.4 446.97L120.02 443.1L124.64 439.22L129.25 435.84L133.87 432.58L138.49 429.35L143.11 426.36L147.73 423.37L152.35 420.73L156.97 418.44L161.59 416.15L166.21 414.12L170.83 412.12L175.45 410.14L180.07 408.17L184.69 406.2L189.31 404.25L193.93 402.31L198.55 400.59L203.16 399.42L207.78 398.26L212.4 397.1L217.02 395.96L221.64 394.83L226.26 393.67L230.88 392.49L235.5 391.3L248.2 384.7L256.9 383.7L262.1 382.5L266.63 380.63L271.17 378.83L275.7 377.48L280.23 376.23L284.77 375.04L289.3 373.84L293.83 372.49L298.37 370.78L302.9 369" stroke="#00009a" stroke-width="0.5" fill="none"/>
<path d="M92.3 463.04L96 470.24L88.6 470.24Z" fill="#00009a"/>
<path d="M96.92 458.94L100.62 466.14L93.22 466.14Z" fill="#00009a"/>
<path d="M101.54 454.6L105.24 461.8L97.84 461.8Z" fill="#00009a"/>
<path d="M106.16 449.98L109.86 457.18L102.46 457.18Z" fill="#00009a"/>
<path d="M110.78 446.23L114.48 453.43L107.08 453.43Z" fill="#00009a"/>
<path d="M115.4 442.5L119.1 449.7L111.7 449.7Z" fill="#00009a"/>
<path d="M120.02 438.63L123.72 445.83L116.32 445.83Z" fill="#00009a"/>
<path d="M124.64 434.76L128.34 441.96L120.94 441.96Z" fill="#00009a"/>
<path d="M129.25 431.38L132.95 438.58L125.55 438.58Z" fill="#00009a"/>
<path d="M133.87 428.11L137.57 435.31L130.17 435.31Z" fill="#00009a"/>
<path d="M138.49 424.89L142.19 432.09L134.79 432.09Z" fill="#00009a"/>
<path d="M143.11 421.9L146.81 429.1L139.41 429.1Z" fill="#00009a"/>
<path d="M147.73 418.9L151.43 426.1L144.03 426.1Z" fill="#00009a"/>
<path d="M152.35 416.27L156.05 423.47L148.65 423.47Z" fill="#00009a"/>
<path d="M156.97 413.98L160.67 421.18L153.27 421.18Z" fill="#00009a"/>
<path d="M161.59 411.69L165.29 418.89L157.89 418.89Z" fill="#00009a"/>
<path d="M166.21 409.65L169.91 416.85L162.51 416.85Z" fill="#00009a"/>
<path d="M170.83 407.66L174.53 414.86L167.13 414.86Z" fill="#00009a"/>
<path d="M175.45 405.67L179.15 412.87L171.75 412.87Z" fill="#00009a"/>
<path d="M180.07 403.71L183.77 410.91L176.37 410.91Z" fill="#00009a"/>
<path d="M184.69 401.74L188.39 408.94L180.99 408.94Z" fill="#00009a"/>
<path d="M189.31 399.79L193.01 406.99L185.61 406.99Z" fill="#00009a"/>
<path d="M193.93 397.85L197.63 405.05L190.23 405.05Z" fill="#00009a"/>
<path d="M198.55 396.12L202.25 403.32L194.85 403.32Z" fill="#00009a"/>
<path d="M203.16 394.96L206.86 402.16L199.46 402.16Z" fill="#00009a"/>
<path d="M207.78 393.8L211.48 401L204.08 401Z" fill="#00009a"/>
<path d="M212.4 392.64L216.1 399.84L208.7 399.84Z" fill="#00009a"/>
<path d="M217.02 391.5L220.72 398.7L213.32 398.7Z" fill="#00009a"/>
<path d="M221.64 390.36L225.34 397.56L217.94 397.56Z" fill="#00009a"/>
<path d="M226.26 389.21L229.96 396.41L222.56 396.41Z" fill="#00009a"/>
<path d="M230.88 388.02L234.58 395.22L227.18 395.22Z" fill="#00009a"/>
<path d="M235.5 386.84L239.2 394.04L231.8 394.04Z" fill="#00009a"/>
<path d="M248.2 380.24L251.9 387.44L244.5 387.44Z" fill="#00009a"/>
<path d="M256.9 379.24L260.6 386.44L253.2 386.44Z" fill="#00009a"/>
<path d="M262.1 378.04L265.8 385.24L258.4 385.24Z" fill="#00009a"/>
<path d="M266.63 376.17L270.33 383.37L262.93 383.37Z" fill="#00009a"/>
<path d="M271.17 374.37L274.87 381.57L267.47 381.57Z" fill="#00009a"/>
<path d="M275.7 373.01L279.4 380.21L272 380.21Z" fill="#00009a"/>
<path d="M280.23 371.76L283.93 378.96L276.53 378.96Z" fill="#00009a"/>
<path d="M284.77 370.57L288.47 377.77L281.07 377.77Z" fill="#00009a"/>
<path d="M289.3 369.38L293 376.58L285.6 376.58Z" fill="#00009a"/>
<path d="M293.83 368.03L297.53 375.23L290.13 375.23Z" fill="#00009a"/>
<path d="M298.37 366.31L302.07 373.51L294.67 373.51Z" fill="#00009a"/>
<path d="M302.9 364.54L306.6 371.74L299.2 371.74Z" fill="#00009a"/>
<path d="M92.3 463.7L96.92 459.61L101.54 455.26L106.16 450.64L110.78 446.9L115.4 443.17L120.02 439.3L124.64 435.42L129.25 432.04L133.87 428.78L138.49 425.55L143.11 422.56L147.73 419.57L152.35 416.93L156.97 414.64L161.59 412.35L166.21 410.32L170.83 408.32L175.45 406.34L180.07 404.37L184.69 402.4L189.31 400.45L193.93 398.51L198.55 396.79L203.16 395.62L207.78 394.46L212.4 393.3L217.02 392.16L221.64 391.03L226.26 389.87L230.88 388.69L235.5 387.5L248.2 380.9L256.9 379.9L262.1 378.7L266.63 376.83L271.17 375.03L275.7 373.68L280.23 372.43L284.77 371.24L289.3 370.04L293.83 368.69L298.37 366.98L302.9 365.2" stroke="#0000ff" stroke-width="0.5" fill="none"/>
<path d="M92.3 468.16L96 460.96L88.6 460.96Z" fill="#0000ff"/>
<path d="M96.92 464.07L100.62 456.87L93.22 456.87Z" fill="#0000ff"/>
<path d="M101.54 459.73L105.24 452.53L97.84 452.53Z" fill="#0000ff"/>
<path d="M106.16 455.11L109.86 447.91L102.46 447.91Z" fill="#0000ff"/>
<path d="M110.78 451.36L114.48 444.16L107.08 444.16Z" fill="#0000ff"/>
<path d="M115.4 447.63L119.1 440.43L111.7 440.43Z" fill="#0000ff"/>
<path d="M120.02 443.76L123.72 436.56L116.32 436.56Z" fill="#0000ff"/>
<path d="M124.64 439.89L128.34 432.69L120.94 432.69Z" fill="#0000ff"/>
<path d="M129.25 436.51L132.95 429.31L125.55 429.31Z" fill="#0000ff"/>
<path d="M133.87 433.24L137.57 426.04L130.17 426.04Z" fill="#0000ff"/>
<path d="M138.49 430.01L142.19 422.81L134.79 422.81Z" fill="#0000ff"/>
<path d="M143.11 427.02L146.81 419.82L139.41 419.82Z" fill="#0000ff"/>
<path d="M147.73 424.03L151.43 416.83L144.03 416.83Z" fill="#0000ff"/>
<path d="M152.35 421.4L156.05 414.2L148.65 414.2Z" fill="#0000ff"/>
<path d="M156.97 419.11L160.67 411.91L153.27 411.91Z" fill="#0000ff"/>
<path d="M161.59 416.82L165.29 409.62L157.89 409.62Z" fill="#0000ff"/>
<path d="M166.21 414.78L169.91 407.58L162.51 407.58Z" fill="#0000ff"/>
<path d="M170.83 412.79L174.53 405.59L167.13 405.59Z" fill="#0000ff"/>
<path d="M175.45 410.8L179.15 403.6L171.75 403.6Z" fill="#0000ff"/>
<path d="M180.07 408.83L183.77 401.63L176.37 401.63Z" fill="#0000ff"/>
<path d="M184.69 406.86L188.39 399.66L180.99 399.66Z" fill="#0000ff"/>
<path d="M189.31 404.91L193.01 397.71L185.61 397.71Z" fill="#0000ff"/>
<path d="M193.93 402.98L197.63 395.78L190.23 395.78Z" fill="#0000ff"/>
<path d="M198.55 401.25L202.25 394.05L194.85 394.05Z" fill="#0000ff"/>
<path d="M203.16 400.09L206.86 392.89L199.46 392.89Z" fill="#0000ff"/>
<path d="M207.78 398.93L211.48 391.73L204.08 391.73Z" fill="#0000ff"/>
<path d="M212.4 397.76L216.1 390.56L208.7 390.56Z" fill="#0000ff"/>
<path d="M217.02 396.63L220.72 389.43L213.32 389.43Z" fill="#0000ff"/>
<path d="M221.64 395.49L225.34 388.29L217.94 388.29Z" fill="#0000ff"/>
<path d="M226.26 394.33L229.96 387.13L222.56 387.13Z" fill="#0000ff"/>
<path d="M230.88 393.15L234.58 385.95L227.18 385.95Z" fill="#0000ff"/>
<path d="M235.5 391.96L239.2 384.76L231.8 384.76Z" fill="#0000ff"/>
<path d="M248.2 385.36L251.9 378.16L244.5 378.16Z" fill="#0000ff"/>
<path d="M256.9 384.36L260.6 377.16L253.2 377.16Z" fill="#0000ff"/>
<path d="M262.1 383.16L265.8 375.96L258.4 375.96Z" fill="#0000ff"/>
<path d="M266.63 381.3L270.33 374.1L262.93 374.1Z" fill="#0000ff"/>
<path d="M271.17 379.49L274.87 372.29L267.47 372.29Z" fill="#0000ff"/>
<path d="M275.7 378.14L279.4 370.94L272 370.94Z" fill="#0000ff"/>
<path d="M280.23 376.89L283.93 369.69L276.53 369.69Z" fill="#0000ff"/>
<path d="M284.77 375.7L288.47 368.5L281.07 368.5Z" fill="#0000ff"/>
<path d="M289.3 374.51L293 367.31L285.6 367.31Z" fill="#0000ff"/>
<path d="M293.83 373.16L297.53 365.96L290.13 365.96Z" fill="#0000ff"/>
<path d="M298.37 371.44L302.07 364.24L294.67 364.24Z" fill="#0000ff"/>
<path d="M302.9 369.66L306.6 362.46L299.2 362.46Z" fill="#0000ff"/>
<rect x="402" y="320.5" width="269.5" height="250.7" fill="none" stroke="#000" stroke-width="3.0"/>
<text x="402" y="588.2" font-size="11" font-weight="bold" text-anchor="middle">1</text>
<text x="446.92" y="588.2" font-size="11" font-weight="bold" text-anchor="middle">2</text>
<text x="491.83" y="588.2" font-size="11" font-weight="bold" text-anchor="middle">3</text>
<text x="536.75" y="588.2" font-size="11" font-weight="bold" text-anchor="middle">4</text>
<text x="581.67" y="588.2" font-size="11" font-weight="bold" text-anchor="middle">5</text>
<text x="626.58" y="588.2" font-size="11" font-weight="bold" text-anchor="middle">6</text>
<text x="671.5" y="588.2" font-size="11" font-weight="bold" text-anchor="middle">7</text>
<text x="395.5" y="324.1" font-size="11.5" font-weight="bold" text-anchor="end">-2.5</text>
<text x="395.5" y="365.88" font-size="11.5" font-weight="bold" text-anchor="end">-3.0</text>
<text x="395.5" y="407.67" font-size="11.5" font-weight="bold" text-anchor="end">-3.5</text>
<text x="395.5" y="449.45" font-size="11.5" font-weight="bold" text-anchor="end">-4.0</text>
<text x="395.5" y="491.23" font-size="11.5" font-weight="bold" text-anchor="end">-4.5</text>
<text x="395.5" y="533.02" font-size="11.5" font-weight="bold" text-anchor="end">-5.0</text>
<text x="395.5" y="574.8" font-size="11.5" font-weight="bold" text-anchor="end">-5.5</text>
<path d="M402 571.2V576.2M424.46 571.2V574.4M446.92 571.2V576.2M469.38 571.2V574.4M491.83 571.2V576.2M514.29 571.2V574.4M536.75 571.2V576.2M559.21 571.2V574.4M581.67 571.2V576.2M604.12 571.2V574.4M626.58 571.2V576.2M649.04 571.2V574.4M671.5 571.2V576.2M402 320.5H397.5M402 341.39H399M402 362.28H397.5M402 383.18H399M402 404.07H397.5M402 424.96H399M402 445.85H397.5M402 466.74H399M402 487.63H397.5M402 508.53H399M402 529.42H397.5M402 550.31H399M402 571.2H397.5" stroke="#000" stroke-width="2.4" stroke-linecap="round" fill="none"/>
<path d="M436.4 538L442.7 531.26L448.99 526.44L455.29 521.58L461.58 514.51L467.88 509.48L474.17 505.24L480.47 497.45L486.77 490.88L493.06 486.76L499.36 482.97L505.65 479.73L511.95 476.58L518.24 473.43L524.54 470.63L530.83 467.68L537.13 464.91L543.43 462.62L549.72 461.04L556.02 459.14L562.31 457.17L568.61 455.44L574.9 453.03L581.2 450.3L595.2 444.7L602.2 442.1L608.3 440.3L612.7 438.9L617.1 435.4L621.4 432.8L625.8 430.2L630.2 425.8L634.6 421.4L639.8 416.2L644.2 410.9" stroke="#000000" stroke-width="0.5" fill="none"/>
<rect x="433.8" y="534.85" width="5.2" height="6.3" fill="#000000"/>
<rect x="440.1" y="528.11" width="5.2" height="6.3" fill="#000000"/>
<rect x="446.39" y="523.29" width="5.2" height="6.3" fill="#000000"/>
<rect x="452.69" y="518.43" width="5.2" height="6.3" fill="#000000"/>
<rect x="458.98" y="511.36" width="5.2" height="6.3" fill="#000000"/>
<rect x="465.28" y="506.33" width="5.2" height="6.3" fill="#000000"/>
<rect x="471.57" y="502.09" width="5.2" height="6.3" fill="#000000"/>
<rect x="477.87" y="494.3" width="5.2" height="6.3" fill="#000000"/>
<rect x="484.17" y="487.73" width="5.2" height="6.3" fill="#000000"/>
<rect x="490.46" y="483.61" width="5.2" height="6.3" fill="#000000"/>
<rect x="496.76" y="479.82" width="5.2" height="6.3" fill="#000000"/>
<rect x="503.05" y="476.58" width="5.2" height="6.3" fill="#000000"/>
<rect x="509.35" y="473.43" width="5.2" height="6.3" fill="#000000"/>
<rect x="515.64" y="470.28" width="5.2" height="6.3" fill="#000000"/>
<rect x="521.94" y="467.48" width="5.2" height="6.3" fill="#000000"/>
<rect x="528.23" y="464.53" width="5.2" height="6.3" fill="#000000"/>
<rect x="534.53" y="461.76" width="5.2" height="6.3" fill="#000000"/>
<rect x="540.83" y="459.47" width="5.2" height="6.3" fill="#000000"/>
<rect x="547.12" y="457.89" width="5.2" height="6.3" fill="#000000"/>
<rect x="553.42" y="455.99" width="5.2" height="6.3" fill="#000000"/>
<rect x="559.71" y="454.02" width="5.2" height="6.3" fill="#000000"/>
<rect x="566.01" y="452.29" width="5.2" height="6.3" fill="#000000"/>
<rect x="572.3" y="449.88" width="5.2" height="6.3" fill="#000000"/>
<rect x="578.6" y="447.15" width="5.2" height="6.3" fill="#000000"/>
<rect x="592.6" y="441.55" width="5.2" height="6.3" fill="#000000"/>
<rect x="599.6" y="438.95" width="5.2" height="6.3" fill="#000000"/>
<rect x="605.7" y="437.15" width="5.2" height="6.3" fill="#000000"/>
<rect x="610.1" y="435.75" width="5.2" height="6.3" fill="#000000"/>
<rect x="614.5" y="432.25" width="5.2" height="6.3" fill="#000000"/>
<rect x="618.8" y="429.65" width="5.2" height="6.3" fill="#000000"/>
<rect x="623.2" y="427.05" width="5.2" height="6.3" fill="#000000"/>
<rect x="627.6" y="422.65" width="5.2" height="6.3" fill="#000000"/>
<rect x="632" y="418.25" width="5.2" height="6.3" fill="#000000"/>
<rect x="637.2" y="413.05" width="5.2" height="6.3" fill="#000000"/>
<rect x="641.6" y="407.75" width="5.2" height="6.3" fill="#000000"/>
<path d="M436.4 489.1L441.23 484.36L446.05 481.21L450.88 476.92L455.71 472.06L460.53 467.17L465.36 463.15L470.19 459.09L475.01 455.02L479.84 450.94L484.67 446.89L489.49 443.06L494.32 439.61L499.15 436.35L503.97 433.15L508.8 430.5L513.63 428.09L518.45 425.67L523.28 423.26L528.11 420.82L532.93 418.38L537.76 415.97L542.59 413.78L547.41 411.9L552.24 410.05L557.07 408.42L561.89 406.66L566.72 405.13L571.55 403.89L576.37 402.59L581.2 401.3L594.3 397.8L602.5 395.35L608.3 393.84L613.43 392.14L618.56 390.43L623.69 389.11L628.81 387.86L633.94 386.24L639.07 384L644.2 380.3" stroke="#ff0000" stroke-width="0.5" fill="none"/>
<ellipse cx="436.4" cy="489.1" rx="2.75" ry="3.3" fill="#ff0000"/>
<ellipse cx="441.23" cy="484.36" rx="2.75" ry="3.3" fill="#ff0000"/>
<ellipse cx="446.05" cy="481.21" rx="2.75" ry="3.3" fill="#ff0000"/>
<ellipse cx="450.88" cy="476.92" rx="2.75" ry="3.3" fill="#ff0000"/>
<ellipse cx="455.71" cy="472.06" rx="2.75" ry="3.3" fill="#ff0000"/>
<ellipse cx="460.53" cy="467.17" rx="2.75" ry="3.3" fill="#ff0000"/>
<ellipse cx="465.36" cy="463.15" rx="2.75" ry="3.3" fill="#ff0000"/>
<ellipse cx="470.19" cy="459.09" rx="2.75" ry="3.3" fill="#ff0000"/>
<ellipse cx="475.01" cy="455.02" rx="2.75" ry="3.3" fill="#ff0000"/>
<ellipse cx="479.84" cy="450.94" rx="2.75" ry="3.3" fill="#ff0000"/>
<ellipse cx="484.67" cy="446.89" rx="2.75" ry="3.3" fill="#ff0000"/>
<ellipse cx="489.49" cy="443.06" rx="2.75" ry="3.3" fill="#ff0000"/>
<ellipse cx="494.32" cy="439.61" rx="2.75" ry="3.3" fill="#ff0000"/>
<ellipse cx="499.15" cy="436.35" rx="2.75" ry="3.3" fill="#ff0000"/>
<ellipse cx="503.97" cy="433.15" rx="2.75" ry="3.3" fill="#ff0000"/>
<ellipse cx="508.8" cy="430.5" rx="2.75" ry="3.3" fill="#ff0000"/>
<ellipse cx="513.63" cy="428.09" rx="2.75" ry="3.3" fill="#ff0000"/>
<ellipse cx="518.45" cy="425.67" rx="2.75" ry="3.3" fill="#ff0000"/>
<ellipse cx="523.28" cy="423.26" rx="2.75" ry="3.3" fill="#ff0000"/>
<ellipse cx="528.11" cy="420.82" rx="2.75" ry="3.3" fill="#ff0000"/>
<ellipse cx="532.93" cy="418.38" rx="2.75" ry="3.3" fill="#ff0000"/>
<ellipse cx="537.76" cy="415.97" rx="2.75" ry="3.3" fill="#ff0000"/>
<ellipse cx="542.59" cy="413.78" rx="2.75" ry="3.3" fill="#ff0000"/>
<ellipse cx="547.41" cy="411.9" rx="2.75" ry="3.3" fill="#ff0000"/>
<ellipse cx="552.24" cy="410.05" rx="2.75" ry="3.3" fill="#ff0000"/>
<ellipse cx="557.07" cy="408.42" rx="2.75" ry="3.3" fill="#ff0000"/>
<ellipse cx="561.89" cy="406.66" rx="2.75" ry="3.3" fill="#ff0000"/>
<ellipse cx="566.72" cy="405.13" rx="2.75" ry="3.3" fill="#ff0000"/>
<ellipse cx="571.55" cy="403.89" rx="2.75" ry="3.3" fill="#ff0000"/>
<ellipse cx="576.37" cy="402.59" rx="2.75" ry="3.3" fill="#ff0000"/>
<ellipse cx="581.2" cy="401.3" rx="2.75" ry="3.3" fill="#ff0000"/>
<ellipse cx="594.3" cy="397.8" rx="2.75" ry="3.3" fill="#ff0000"/>
<ellipse cx="602.5" cy="395.35" rx="2.75" ry="3.3" fill="#ff0000"/>
<ellipse cx="608.3" cy="393.84" rx="2.75" ry="3.3" fill="#ff0000"/>
<ellipse cx="613.43" cy="392.14" rx="2.75" ry="3.3" fill="#ff0000"/>
<ellipse cx="618.56" cy="390.43" rx="2.75" ry="3.3" fill="#ff0000"/>
<ellipse cx="623.69" cy="389.11" rx="2.75" ry="3.3" fill="#ff0000"/>
<ellipse cx="628.81" cy="387.86" rx="2.75" ry="3.3" fill="#ff0000"/>
<ellipse cx="633.94" cy="386.24" rx="2.75" ry="3.3" fill="#ff0000"/>
<ellipse cx="639.07" cy="384" rx="2.75" ry="3.3" fill="#ff0000"/>
<ellipse cx="644.2" cy="380.3" rx="2.75" ry="3.3" fill="#ff0000"/>
<path d="M436.4 465.1L441.07 460.49L445.74 455.86L450.41 451.19L455.08 446.96L459.75 443.23L464.43 439.44L469.1 435.23L473.77 431.03L478.44 427.16L483.11 423.39L487.78 419.86L492.45 416.64L497.12 413.44L501.79 410.62L506.46 407.79L511.14 405.33L515.81 403L520.48 400.66L525.15 398.33L529.82 396.01L534.49 394.08L539.16 392.16L543.83 390.22L548.5 388.24L553.17 386.51L557.85 384.95L562.52 383.39L567.19 381.84L571.86 380.27L576.53 378.59L581.2 376.9L595 374.34L602.5 371.77L608.3 369.85L612.89 368.34L617.47 366.81L622.06 365.28L626.65 363.97L631.24 362.83L635.83 361.18L640.41 359.2L645 364.48" stroke="#0000ff" stroke-width="0.5" fill="none"/>
<path d="M436.4 469.56L440.1 462.36L432.7 462.36Z" fill="#0000ff"/>
<path d="M441.07 464.95L444.77 457.75L437.37 457.75Z" fill="#0000ff"/>
<path d="M445.74 460.32L449.44 453.12L442.04 453.12Z" fill="#0000ff"/>
<path d="M450.41 455.65L454.11 448.45L446.71 448.45Z" fill="#0000ff"/>
<path d="M455.08 451.42L458.78 444.22L451.38 444.22Z" fill="#0000ff"/>
<path d="M459.75 447.69L463.45 440.49L456.05 440.49Z" fill="#0000ff"/>
<path d="M464.43 443.9L468.13 436.7L460.73 436.7Z" fill="#0000ff"/>
<path d="M469.1 439.7L472.8 432.5L465.4 432.5Z" fill="#0000ff"/>
<path d="M473.77 435.49L477.47 428.29L470.07 428.29Z" fill="#0000ff"/>
<path d="M478.44 431.63L482.14 424.43L474.74 424.43Z" fill="#0000ff"/>
<path d="M483.11 427.86L486.81 420.66L479.41 420.66Z" fill="#0000ff"/>
<path d="M487.78 424.33L491.48 417.13L484.08 417.13Z" fill="#0000ff"/>
<path d="M492.45 421.1L496.15 413.9L488.75 413.9Z" fill="#0000ff"/>
<path d="M497.12 417.91L500.82 410.71L493.42 410.71Z" fill="#0000ff"/>
<path d="M501.79 415.08L505.49 407.88L498.09 407.88Z" fill="#0000ff"/>
<path d="M506.46 412.25L510.16 405.05L502.76 405.05Z" fill="#0000ff"/>
<path d="M511.14 409.8L514.84 402.6L507.44 402.6Z" fill="#0000ff"/>
<path d="M515.81 407.46L519.51 400.26L512.11 400.26Z" fill="#0000ff"/>
<path d="M520.48 405.13L524.18 397.93L516.78 397.93Z" fill="#0000ff"/>
<path d="M525.15 402.79L528.85 395.59L521.45 395.59Z" fill="#0000ff"/>
<path d="M529.82 400.47L533.52 393.27L526.12 393.27Z" fill="#0000ff"/>
<path d="M534.49 398.55L538.19 391.35L530.79 391.35Z" fill="#0000ff"/>
<path d="M539.16 396.62L542.86 389.42L535.46 389.42Z" fill="#0000ff"/>
<path d="M543.83 394.68L547.53 387.48L540.13 387.48Z" fill="#0000ff"/>
<path d="M548.5 392.71L552.2 385.51L544.8 385.51Z" fill="#0000ff"/>
<path d="M553.17 390.97L556.87 383.77L549.47 383.77Z" fill="#0000ff"/>
<path d="M557.85 389.42L561.55 382.22L554.15 382.22Z" fill="#0000ff"/>
<path d="M562.52 387.86L566.22 380.66L558.82 380.66Z" fill="#0000ff"/>
<path d="M567.19 386.3L570.89 379.1L563.49 379.1Z" fill="#0000ff"/>
<path d="M571.86 384.73L575.56 377.53L568.16 377.53Z" fill="#0000ff"/>
<path d="M576.53 383.05L580.23 375.85L572.83 375.85Z" fill="#0000ff"/>
<path d="M581.2 381.36L584.9 374.16L577.5 374.16Z" fill="#0000ff"/>
<path d="M595 378.8L598.7 371.6L591.3 371.6Z" fill="#0000ff"/>
<path d="M602.5 376.24L606.2 369.04L598.8 369.04Z" fill="#0000ff"/>
<path d="M608.3 374.31L612 367.11L604.6 367.11Z" fill="#0000ff"/>
<path d="M612.89 372.8L616.59 365.6L609.19 365.6Z" fill="#0000ff"/>
<path d="M617.47 371.27L621.17 364.07L613.77 364.07Z" fill="#0000ff"/>
<path d="M622.06 369.74L625.76 362.54L618.36 362.54Z" fill="#0000ff"/>
<path d="M626.65 368.43L630.35 361.23L622.95 361.23Z" fill="#0000ff"/>
<path d="M631.24 367.3L634.94 360.1L627.54 360.1Z" fill="#0000ff"/>
<path d="M635.83 365.64L639.53 358.44L632.12 358.44Z" fill="#0000ff"/>
<path d="M640.41 363.67L644.11 356.47L636.71 356.47Z" fill="#0000ff"/>
<path d="M645 368.95L648.7 361.75L641.3 361.75Z" fill="#0000ff"/>
<path d="M436.4 460.6L441.07 455.99L445.74 451.36L450.41 446.69L455.08 442.46L459.75 438.73L464.43 434.94L469.1 430.73L473.77 426.53L478.44 422.66L483.11 418.89L487.78 415.36L492.45 412.14L497.12 408.94L501.79 406.12L506.46 403.29L511.14 400.83L515.81 398.5L520.48 396.16L525.15 393.83L529.82 391.51L534.49 389.58L539.16 387.66L543.83 385.72L548.5 383.74L553.17 382.01L557.85 380.45L562.52 378.89L567.19 377.34L571.86 375.77L576.53 374.09L581.2 372.4L595 369.84L602.5 367.27L608.3 365.35L612.89 363.84L617.47 362.31L622.06 360.78L626.65 359.47L631.24 358.33L635.83 356.68L640.41 354.7L645 359.98" stroke="#00009a" stroke-width="0.5" fill="none"/>
<path d="M436.4 456.14L440.1 463.34L432.7 463.34Z" fill="#00009a"/>
<path d="M441.07 451.53L444.77 458.73L437.37 458.73Z" fill="#00009a"/>
<path d="M445.74 446.89L449.44 454.09L442.04 454.09Z" fill="#00009a"/>
<path d="M450.41 442.22L454.11 449.42L446.71 449.42Z" fill="#00009a"/>
<path d="M455.08 437.99L458.78 445.19L451.38 445.19Z" fill="#00009a"/>
<path d="M459.75 434.26L463.45 441.46L456.05 441.46Z" fill="#00009a"/>
<path d="M464.43 430.47L468.13 437.67L460.73 437.67Z" fill="#00009a"/>
<path d="M469.1 426.27L472.8 433.47L465.4 433.47Z" fill="#00009a"/>
<path d="M473.77 422.07L477.47 429.27L470.07 429.27Z" fill="#00009a"/>
<path d="M478.44 418.2L482.14 425.4L474.74 425.4Z" fill="#00009a"/>
<path d="M483.11 414.43L486.81 421.63L479.41 421.63Z" fill="#00009a"/>
<path d="M487.78 410.9L491.48 418.1L484.08 418.1Z" fill="#00009a"/>
<path d="M492.45 407.67L496.15 414.87L488.75 414.87Z" fill="#00009a"/>
<path d="M497.12 404.48L500.82 411.68L493.42 411.68Z" fill="#00009a"/>
<path d="M501.79 401.65L505.49 408.85L498.09 408.85Z" fill="#00009a"/>
<path d="M506.46 398.82L510.16 406.02L502.76 406.02Z" fill="#00009a"/>
<path d="M511.14 396.37L514.84 403.57L507.44 403.57Z" fill="#00009a"/>
<path d="M515.81 394.03L519.51 401.23L512.11 401.23Z" fill="#00009a"/>
<path d="M520.48 391.7L524.18 398.9L516.78 398.9Z" fill="#00009a"/>
<path d="M525.15 389.36L528.85 396.56L521.45 396.56Z" fill="#00009a"/>
<path d="M529.82 387.05L533.52 394.25L526.12 394.25Z" fill="#00009a"/>
<path d="M534.49 385.12L538.19 392.32L530.79 392.32Z" fill="#00009a"/>
<path d="M539.16 383.19L542.86 390.39L535.46 390.39Z" fill="#00009a"/>
<path d="M543.83 381.26L547.53 388.46L540.13 388.46Z" fill="#00009a"/>
<path d="M548.5 379.28L552.2 386.48L544.8 386.48Z" fill="#00009a"/>
<path d="M553.17 377.54L556.87 384.74L549.47 384.74Z" fill="#00009a"/>
<path d="M557.85 375.99L561.55 383.19L554.15 383.19Z" fill="#00009a"/>
<path d="M562.52 374.43L566.22 381.63L558.82 381.63Z" fill="#00009a"/>
<path d="M567.19 372.87L570.89 380.07L563.49 380.07Z" fill="#00009a"/>
<path d="M571.86 371.31L575.56 378.51L568.16 378.51Z" fill="#00009a"/>
<path d="M576.53 369.62L580.23 376.82L572.83 376.82Z" fill="#00009a"/>
<path d="M581.2 367.94L584.9 375.14L577.5 375.14Z" fill="#00009a"/>
<path d="M595 365.37L598.7 372.57L591.3 372.57Z" fill="#00009a"/>
<path d="M602.5 362.81L606.2 370.01L598.8 370.01Z" fill="#00009a"/>
<path d="M608.3 360.89L612 368.09L604.6 368.09Z" fill="#00009a"/>
<path d="M612.89 359.37L616.59 366.57L609.19 366.57Z" fill="#00009a"/>
<path d="M617.47 357.84L621.17 365.04L613.77 365.04Z" fill="#00009a"/>
<path d="M622.06 356.32L625.76 363.52L618.36 363.52Z" fill="#00009a"/>
<path d="M626.65 355L630.35 362.2L622.95 362.2Z" fill="#00009a"/>
<path d="M631.24 353.87L634.94 361.07L627.54 361.07Z" fill="#00009a"/>
<path d="M635.83 352.21L639.53 359.41L632.12 359.41Z" fill="#00009a"/>
<path d="M640.41 350.24L644.11 357.44L636.71 357.44Z" fill="#00009a"/>
<path d="M645 355.52L648.7 362.72L641.3 362.72Z" fill="#00009a"/>
<path d="M436.4 466.1L441.07 462.16L445.74 457.96L450.41 453.29L455.08 449.04L459.75 445.27L464.43 441.57L469.1 438.34L473.77 435.11L478.44 431.46L483.11 427.69L487.78 424.14L492.45 420.87L497.12 417.64L501.79 414.82L506.46 411.99L511.14 409.21L515.81 406.45L520.48 403.86L525.15 401.53L529.82 399.21L534.49 397.25L539.16 395.29L543.83 393.61L548.5 392.83L553.17 391.61L557.85 390.05L562.52 388.49L567.19 386.94L571.86 385.4L576.53 384.15L581.2 382.9L595 379.45L602.5 376.71L608.3 374.93L612.89 373.52L617.47 372.01L622.06 370.48L626.65 368.95L631.24 367.42L635.83 365.42L640.41 362.11L645 369.62" stroke="#008000" stroke-width="0.5" fill="none"/>
<path d="M436.4 461.6L440.4 466.1L436.4 470.6L432.4 466.1Z" fill="#008000"/>
<path d="M441.07 457.66L445.07 462.16L441.07 466.66L437.07 462.16Z" fill="#008000"/>
<path d="M445.74 453.46L449.74 457.96L445.74 462.46L441.74 457.96Z" fill="#008000"/>
<path d="M450.41 448.79L454.41 453.29L450.41 457.79L446.41 453.29Z" fill="#008000"/>
<path d="M455.08 444.54L459.08 449.04L455.08 453.54L451.08 449.04Z" fill="#008000"/>
<path d="M459.75 440.77L463.75 445.27L459.75 449.77L455.75 445.27Z" fill="#008000"/>
<path d="M464.43 437.07L468.43 441.57L464.43 446.07L460.43 441.57Z" fill="#008000"/>
<path d="M469.1 433.84L473.1 438.34L469.1 442.84L465.1 438.34Z" fill="#008000"/>
<path d="M473.77 430.61L477.77 435.11L473.77 439.61L469.77 435.11Z" fill="#008000"/>
<path d="M478.44 426.96L482.44 431.46L478.44 435.96L474.44 431.46Z" fill="#008000"/>
<path d="M483.11 423.19L487.11 427.69L483.11 432.19L479.11 427.69Z" fill="#008000"/>
<path d="M487.78 419.64L491.78 424.14L487.78 428.64L483.78 424.14Z" fill="#008000"/>
<path d="M492.45 416.37L496.45 420.87L492.45 425.37L488.45 420.87Z" fill="#008000"/>
<path d="M497.12 413.14L501.12 417.64L497.12 422.14L493.12 417.64Z" fill="#008000"/>
<path d="M501.79 410.32L505.79 414.82L501.79 419.32L497.79 414.82Z" fill="#008000"/>
<path d="M506.46 407.49L510.46 411.99L506.46 416.49L502.46 411.99Z" fill="#008000"/>
<path d="M511.14 404.71L515.14 409.21L511.14 413.71L507.14 409.21Z" fill="#008000"/>
<path d="M515.81 401.95L519.81 406.45L515.81 410.95L511.81 406.45Z" fill="#008000"/>
<path d="M520.48 399.36L524.48 403.86L520.48 408.36L516.48 403.86Z" fill="#008000"/>
<path d="M525.15 397.03L529.15 401.53L525.15 406.03L521.15 401.53Z" fill="#008000"/>
<path d="M529.82 394.71L533.82 399.21L529.82 403.71L525.82 399.21Z" fill="#008000"/>
<path d="M534.49 392.75L538.49 397.25L534.49 401.75L530.49 397.25Z" fill="#008000"/>
<path d="M539.16 390.79L543.16 395.29L539.16 399.79L535.16 395.29Z" fill="#008000"/>
<path d="M543.83 389.11L547.83 393.61L543.83 398.11L539.83 393.61Z" fill="#008000"/>
<path d="M548.5 388.33L552.5 392.83L548.5 397.33L544.5 392.83Z" fill="#008000"/>
<path d="M553.17 387.11L557.17 391.61L553.17 396.11L549.17 391.61Z" fill="#008000"/>
<path d="M557.85 385.55L561.85 390.05L557.85 394.55L553.85 390.05Z" fill="#008000"/>
<path d="M562.52 383.99L566.52 388.49L562.52 392.99L558.52 388.49Z" fill="#008000"/>
<path d="M567.19 382.44L571.19 386.94L567.19 391.44L563.19 386.94Z" fill="#008000"/>
<path d="M571.86 380.9L575.86 385.4L571.86 389.9L567.86 385.4Z" fill="#008000"/>
<path d="M576.53 379.65L580.53 384.15L576.53 388.65L572.53 384.15Z" fill="#008000"/>
<path d="M581.2 378.4L585.2 382.9L581.2 387.4L577.2 382.9Z" fill="#008000"/>
<path d="M595 374.95L599 379.45L595 383.95L591 379.45Z" fill="#008000"/>
<path d="M602.5 372.21L606.5 376.71L602.5 381.21L598.5 376.71Z" fill="#008000"/>
<path d="M608.3 370.43L612.3 374.93L608.3 379.43L604.3 374.93Z" fill="#008000"/>
<path d="M612.89 369.02L616.89 373.52L612.89 378.02L608.89 373.52Z" fill="#008000"/>
<path d="M617.47 367.51L621.47 372.01L617.47 376.51L613.47 372.01Z" fill="#008000"/>
<path d="M622.06 365.98L626.06 370.48L622.06 374.98L618.06 370.48Z" fill="#008000"/>
<path d="M626.65 364.45L630.65 368.95L626.65 373.45L622.65 368.95Z" fill="#008000"/>
<path d="M631.24 362.92L635.24 367.42L631.24 371.92L627.24 367.42Z" fill="#008000"/>
<path d="M635.83 360.92L639.83 365.42L635.83 369.92L631.83 365.42Z" fill="#008000"/>
<path d="M640.41 357.61L644.41 362.11L640.41 366.61L636.41 362.11Z" fill="#008000"/>
<path d="M645 365.12L649 369.62L645 374.12L641 369.62Z" fill="#008000"/>
<path d="M436.4 473.8L441.57 470.84L446.74 467.09L451.91 462.56L457.09 458.36L462.26 454.23L467.43 450.1L472.6 445.96L477.77 442.1L482.94 438.45L488.11 434.83L493.29 431.26L498.46 427.84L503.63 424.7L508.8 421.58L513.97 418.48L519.14 415.43L524.31 412.89L529.49 410.36L534.66 408.18L539.83 406.01L545 403.5L550.17 400.59L555.34 398.79L560.51 397.06L565.69 395.34L570.86 393.61L576.03 392.19L581.2 390.8L594.3 388.2L602.5 384.05L608.3 382.05L613.54 380.32L618.79 378.57L624.03 376.82L629.27 375.08L634.51 373.33L639.76 371.31L645 367.2" stroke="#800000" stroke-width="0.5" fill="none"/>
<path d="M432.43 473.8L438.83 469.5L438.83 478.1Z" fill="#800000"/>
<path d="M437.6 470.84L444 466.54L444 475.14Z" fill="#800000"/>
<path d="M442.77 467.09L449.17 462.79L449.17 471.39Z" fill="#800000"/>
<path d="M447.95 462.56L454.35 458.26L454.35 466.86Z" fill="#800000"/>
<path d="M453.12 458.36L459.52 454.06L459.52 462.66Z" fill="#800000"/>
<path d="M458.29 454.23L464.69 449.93L464.69 458.53Z" fill="#800000"/>
<path d="M463.46 450.1L469.86 445.8L469.86 454.4Z" fill="#800000"/>
<path d="M468.63 445.96L475.03 441.66L475.03 450.26Z" fill="#800000"/>
<path d="M473.8 442.1L480.2 437.8L480.2 446.4Z" fill="#800000"/>
<path d="M478.97 438.45L485.37 434.15L485.37 442.75Z" fill="#800000"/>
<path d="M484.15 434.83L490.55 430.53L490.55 439.13Z" fill="#800000"/>
<path d="M489.32 431.26L495.72 426.96L495.72 435.56Z" fill="#800000"/>
<path d="M494.49 427.84L500.89 423.54L500.89 432.14Z" fill="#800000"/>
<path d="M499.66 424.7L506.06 420.4L506.06 429Z" fill="#800000"/>
<path d="M504.83 421.58L511.23 417.28L511.23 425.88Z" fill="#800000"/>
<path d="M510 418.48L516.4 414.18L516.4 422.78Z" fill="#800000"/>
<path d="M515.17 415.43L521.57 411.13L521.57 419.73Z" fill="#800000"/>
<path d="M520.35 412.89L526.75 408.59L526.75 417.19Z" fill="#800000"/>
<path d="M525.52 410.36L531.92 406.06L531.92 414.66Z" fill="#800000"/>
<path d="M530.69 408.18L537.09 403.88L537.09 412.48Z" fill="#800000"/>
<path d="M535.86 406.01L542.26 401.71L542.26 410.31Z" fill="#800000"/>
<path d="M541.03 403.5L547.43 399.2L547.43 407.8Z" fill="#800000"/>
<path d="M546.2 400.59L552.6 396.29L552.6 404.89Z" fill="#800000"/>
<path d="M551.37 398.79L557.77 394.49L557.77 403.09Z" fill="#800000"/>
<path d="M556.55 397.06L562.95 392.76L562.95 401.36Z" fill="#800000"/>
<path d="M561.72 395.34L568.12 391.04L568.12 399.64Z" fill="#800000"/>
<path d="M566.89 393.61L573.29 389.31L573.29 397.91Z" fill="#800000"/>
<path d="M572.06 392.19L578.46 387.89L578.46 396.49Z" fill="#800000"/>
<path d="M577.23 390.8L583.63 386.5L583.63 395.1Z" fill="#800000"/>
<path d="M590.33 388.2L596.73 383.9L596.73 392.5Z" fill="#800000"/>
<path d="M598.53 384.05L604.93 379.75L604.93 388.35Z" fill="#800000"/>
<path d="M604.33 382.05L610.73 377.75L610.73 386.35Z" fill="#800000"/>
<path d="M609.57 380.32L615.97 376.02L615.97 384.62Z" fill="#800000"/>
<path d="M614.82 378.57L621.22 374.27L621.22 382.87Z" fill="#800000"/>
<path d="M620.06 376.82L626.46 372.52L626.46 381.12Z" fill="#800000"/>
<path d="M625.3 375.08L631.7 370.78L631.7 379.38Z" fill="#800000"/>
<path d="M630.55 373.33L636.95 369.03L636.95 377.63Z" fill="#800000"/>
<path d="M635.79 371.31L642.19 367.01L642.19 375.61Z" fill="#800000"/>
<path d="M641.03 367.2L647.43 362.9L647.43 371.5Z" fill="#800000"/>
<rect x="42.2" y="654.4" width="278.3" height="259.6" fill="none" stroke="#000" stroke-width="3.0"/>
<text x="42.2" y="931" font-size="11" font-weight="bold" text-anchor="middle">1</text>
<text x="88.58" y="931" font-size="11" font-weight="bold" text-anchor="middle">2</text>
<text x="134.97" y="931" font-size="11" font-weight="bold" text-anchor="middle">3</text>
<text x="181.35" y="931" font-size="11" font-weight="bold" text-anchor="middle">4</text>
<text x="227.73" y="931" font-size="11" font-weight="bold" text-anchor="middle">5</text>
<text x="274.12" y="931" font-size="11" font-weight="bold" text-anchor="middle">6</text>
<text x="320.5" y="931" font-size="11" font-weight="bold" text-anchor="middle">7</text>
<text x="35.7" y="679.63" font-size="11.5" font-weight="bold" text-anchor="end">-3</text>
<text x="35.7" y="722.9" font-size="11.5" font-weight="bold" text-anchor="end">-4</text>
<text x="35.7" y="766.17" font-size="11.5" font-weight="bold" text-anchor="end">-5</text>
<text x="35.7" y="809.43" font-size="11.5" font-weight="bold" text-anchor="end">-6</text>
<text x="35.7" y="852.7" font-size="11.5" font-weight="bold" text-anchor="end">-7</text>
<text x="35.7" y="895.97" font-size="11.5" font-weight="bold" text-anchor="end">-8</text>
<path d="M42.2 914V919M65.39 914V917.2M88.58 914V919M111.78 914V917.2M134.97 914V919M158.16 914V917.2M181.35 914V919M204.54 914V917.2M227.73 914V919M250.93 914V917.2M274.12 914V919M297.31 914V917.2M320.5 914V919M42.2 654.4H39.2M42.2 676.03H37.7M42.2 697.67H39.2M42.2 719.3H37.7M42.2 740.93H39.2M42.2 762.57H37.7M42.2 784.2H39.2M42.2 805.83H37.7M42.2 827.47H39.2M42.2 849.1H37.7M42.2 870.73H39.2M42.2 892.37H37.7M42.2 914H39.2" stroke="#000" stroke-width="2.4" stroke-linecap="round" fill="none"/>
<path d="M77.6 839.5L82.3 836.37L87 832.06L91.7 828.73L96.4 826.57L101.1 824.84L105.8 823.79L110.5 822.77L115.2 821.58L119.9 787.32L124.6 786.7L129.3 785.8L134 784.62L138.7 782.44L143.4 779.68L148.1 776.82L152.8 775.65L157.5 774.58L162.2 773.64L166.9 772.43L171.6 770.71L176.3 768.4L181 767.23L185.7 766.04L190.4 764.85L195.1 758.9L199.8 751.66L204.5 748.17L209.2 746.6L213.9 744.99L218.6 743.23L223.3 741.46L228 739.7L241.5 739.02L249.7 738.6L254.5 736.64L259.23 734.25L263.95 731.57L268.68 729.61L273.41 728L278.14 727.57L282.86 726.25L287.59 724.46L292.32 723.01L297.05 720.77L301.77 716.34L306.5 686.7" stroke="#000000" stroke-width="0.5" fill="none"/>
<rect x="75" y="836.35" width="5.2" height="6.3" fill="#000000"/>
<rect x="79.7" y="833.22" width="5.2" height="6.3" fill="#000000"/>
<rect x="84.4" y="828.91" width="5.2" height="6.3" fill="#000000"/>
<rect x="89.1" y="825.58" width="5.2" height="6.3" fill="#000000"/>
<rect x="93.8" y="823.42" width="5.2" height="6.3" fill="#000000"/>
<rect x="98.5" y="821.69" width="5.2" height="6.3" fill="#000000"/>
<rect x="103.2" y="820.64" width="5.2" height="6.3" fill="#000000"/>
<rect x="107.9" y="819.62" width="5.2" height="6.3" fill="#000000"/>
<rect x="112.6" y="818.43" width="5.2" height="6.3" fill="#000000"/>
<rect x="117.3" y="784.17" width="5.2" height="6.3" fill="#000000"/>
<rect x="122" y="783.55" width="5.2" height="6.3" fill="#000000"/>
<rect x="126.7" y="782.65" width="5.2" height="6.3" fill="#000000"/>
<rect x="131.4" y="781.48" width="5.2" height="6.3" fill="#000000"/>
<rect x="136.1" y="779.29" width="5.2" height="6.3" fill="#000000"/>
<rect x="140.8" y="776.53" width="5.2" height="6.3" fill="#000000"/>
<rect x="145.5" y="773.67" width="5.2" height="6.3" fill="#000000"/>
<rect x="150.2" y="772.5" width="5.2" height="6.3" fill="#000000"/>
<rect x="154.9" y="771.43" width="5.2" height="6.3" fill="#000000"/>
<rect x="159.6" y="770.49" width="5.2" height="6.3" fill="#000000"/>
<rect x="164.3" y="769.28" width="5.2" height="6.3" fill="#000000"/>
<rect x="169" y="767.56" width="5.2" height="6.3" fill="#000000"/>
<rect x="173.7" y="765.25" width="5.2" height="6.3" fill="#000000"/>
<rect x="178.4" y="764.08" width="5.2" height="6.3" fill="#000000"/>
<rect x="183.1" y="762.89" width="5.2" height="6.3" fill="#000000"/>
<rect x="187.8" y="761.7" width="5.2" height="6.3" fill="#000000"/>
<rect x="192.5" y="755.75" width="5.2" height="6.3" fill="#000000"/>
<rect x="197.2" y="748.51" width="5.2" height="6.3" fill="#000000"/>
<rect x="201.9" y="745.02" width="5.2" height="6.3" fill="#000000"/>
<rect x="206.6" y="743.45" width="5.2" height="6.3" fill="#000000"/>
<rect x="211.3" y="741.84" width="5.2" height="6.3" fill="#000000"/>
<rect x="216" y="740.08" width="5.2" height="6.3" fill="#000000"/>
<rect x="220.7" y="738.31" width="5.2" height="6.3" fill="#000000"/>
<rect x="225.4" y="736.55" width="5.2" height="6.3" fill="#000000"/>
<rect x="238.9" y="735.87" width="5.2" height="6.3" fill="#000000"/>
<rect x="247.1" y="735.45" width="5.2" height="6.3" fill="#000000"/>
<rect x="251.9" y="733.49" width="5.2" height="6.3" fill="#000000"/>
<rect x="256.63" y="731.1" width="5.2" height="6.3" fill="#000000"/>
<rect x="261.35" y="728.42" width="5.2" height="6.3" fill="#000000"/>
<rect x="266.08" y="726.46" width="5.2" height="6.3" fill="#000000"/>
<rect x="270.81" y="724.85" width="5.2" height="6.3" fill="#000000"/>
<rect x="275.54" y="724.42" width="5.2" height="6.3" fill="#000000"/>
<rect x="280.26" y="723.1" width="5.2" height="6.3" fill="#000000"/>
<rect x="284.99" y="721.31" width="5.2" height="6.3" fill="#000000"/>
<rect x="289.72" y="719.86" width="5.2" height="6.3" fill="#000000"/>
<rect x="294.45" y="717.62" width="5.2" height="6.3" fill="#000000"/>
<rect x="299.17" y="713.19" width="5.2" height="6.3" fill="#000000"/>
<rect x="303.9" y="683.55" width="5.2" height="6.3" fill="#000000"/>
<path d="M77.6 827.2L82.3 824.29L87 821.06L91.7 817.3L96.4 814.56L101.1 813.62L105.8 812.68L110.5 811.73L115.2 810.14L119.9 807.32L124.6 804.4L129.3 801.27L134 798.13L138.7 789.4L143.4 780L148.1 774.35L152.8 772.97L157.5 771.56L162.2 770.12L166.9 768.3L171.6 765.95L176.3 763.6L181 761.61L185.7 759.61L190.4 756.6L195.1 754.25L199.8 751.9L204.5 749.55L209.2 748.76L213.9 748.23L218.6 747.71L223.3 747.38L228 747.75L241.5 747.81L249.7 746.55L254.5 744.83L259.23 743.13L263.95 742.1L268.68 740.79L273.41 737.5L278.14 734.33L282.86 731.54L287.59 729.12L292.32 727.93L297.05 726.94L301.77 725.03L306.5 695.68" stroke="#ff0000" stroke-width="0.5" fill="none"/>
<ellipse cx="77.6" cy="827.2" rx="2.75" ry="3.3" fill="#ff0000"/>
<ellipse cx="82.3" cy="824.29" rx="2.75" ry="3.3" fill="#ff0000"/>
<ellipse cx="87" cy="821.06" rx="2.75" ry="3.3" fill="#ff0000"/>
<ellipse cx="91.7" cy="817.3" rx="2.75" ry="3.3" fill="#ff0000"/>
<ellipse cx="96.4" cy="814.56" rx="2.75" ry="3.3" fill="#ff0000"/>
<ellipse cx="101.1" cy="813.62" rx="2.75" ry="3.3" fill="#ff0000"/>
<ellipse cx="105.8" cy="812.68" rx="2.75" ry="3.3" fill="#ff0000"/>
<ellipse cx="110.5" cy="811.73" rx="2.75" ry="3.3" fill="#ff0000"/>
<ellipse cx="115.2" cy="810.14" rx="2.75" ry="3.3" fill="#ff0000"/>
<ellipse cx="119.9" cy="807.32" rx="2.75" ry="3.3" fill="#ff0000"/>
<ellipse cx="124.6" cy="804.4" rx="2.75" ry="3.3" fill="#ff0000"/>
<ellipse cx="129.3" cy="801.27" rx="2.75" ry="3.3" fill="#ff0000"/>
<ellipse cx="134" cy="798.13" rx="2.75" ry="3.3" fill="#ff0000"/>
<ellipse cx="138.7" cy="789.4" rx="2.75" ry="3.3" fill="#ff0000"/>
<ellipse cx="143.4" cy="780" rx="2.75" ry="3.3" fill="#ff0000"/>
<ellipse cx="148.1" cy="774.35" rx="2.75" ry="3.3" fill="#ff0000"/>
<ellipse cx="152.8" cy="772.97" rx="2.75" ry="3.3" fill="#ff0000"/>
<ellipse cx="157.5" cy="771.56" rx="2.75" ry="3.3" fill="#ff0000"/>
<ellipse cx="162.2" cy="770.12" rx="2.75" ry="3.3" fill="#ff0000"/>
<ellipse cx="166.9" cy="768.3" rx="2.75" ry="3.3" fill="#ff0000"/>
<ellipse cx="171.6" cy="765.95" rx="2.75" ry="3.3" fill="#ff0000"/>
<ellipse cx="176.3" cy="763.6" rx="2.75" ry="3.3" fill="#ff0000"/>
<ellipse cx="181" cy="761.61" rx="2.75" ry="3.3" fill="#ff0000"/>
<ellipse cx="185.7" cy="759.61" rx="2.75" ry="3.3" fill="#ff0000"/>
<ellipse cx="190.4" cy="756.6" rx="2.75" ry="3.3" fill="#ff0000"/>
<ellipse cx="195.1" cy="754.25" rx="2.75" ry="3.3" fill="#ff0000"/>
<ellipse cx="199.8" cy="751.9" rx="2.75" ry="3.3" fill="#ff0000"/>
<ellipse cx="204.5" cy="749.55" rx="2.75" ry="3.3" fill="#ff0000"/>
<ellipse cx="209.2" cy="748.76" rx="2.75" ry="3.3" fill="#ff0000"/>
<ellipse cx="213.9" cy="748.23" rx="2.75" ry="3.3" fill="#ff0000"/>
<ellipse cx="218.6" cy="747.71" rx="2.75" ry="3.3" fill="#ff0000"/>
<ellipse cx="223.3" cy="747.38" rx="2.75" ry="3.3" fill="#ff0000"/>
<ellipse cx="228" cy="747.75" rx="2.75" ry="3.3" fill="#ff0000"/>
<ellipse cx="241.5" cy="747.81" rx="2.75" ry="3.3" fill="#ff0000"/>
<ellipse cx="249.7" cy="746.55" rx="2.75" ry="3.3" fill="#ff0000"/>
<ellipse cx="254.5" cy="744.83" rx="2.75" ry="3.3" fill="#ff0000"/>
<ellipse cx="259.23" cy="743.13" rx="2.75" ry="3.3" fill="#ff0000"/>
<ellipse cx="263.95" cy="742.1" rx="2.75" ry="3.3" fill="#ff0000"/>
<ellipse cx="268.68" cy="740.79" rx="2.75" ry="3.3" fill="#ff0000"/>
<ellipse cx="273.41" cy="737.5" rx="2.75" ry="3.3" fill="#ff0000"/>
<ellipse cx="278.14" cy="734.33" rx="2.75" ry="3.3" fill="#ff0000"/>
<ellipse cx="282.86" cy="731.54" rx="2.75" ry="3.3" fill="#ff0000"/>
<ellipse cx="287.59" cy="729.12" rx="2.75" ry="3.3" fill="#ff0000"/>
<ellipse cx="292.32" cy="727.93" rx="2.75" ry="3.3" fill="#ff0000"/>
<ellipse cx="297.05" cy="726.94" rx="2.75" ry="3.3" fill="#ff0000"/>
<ellipse cx="301.77" cy="725.03" rx="2.75" ry="3.3" fill="#ff0000"/>
<ellipse cx="306.5" cy="695.68" rx="2.75" ry="3.3" fill="#ff0000"/>
<path d="M77.6 833.9L82.3 829.84L87 819.86L91.7 812.57L96.4 810.88L101.1 810.26L105.8 808.79L110.5 806.95L115.2 804.6L119.9 802.88L124.6 801.7L129.3 776.15L134 774.09L138.7 772.03L143.4 770.05L148.1 768.07L152.8 767.11L157.5 766.66L162.2 765.58L166.9 764.15L171.6 761.89L176.3 759.12L181 756.59L185.7 754.22L190.4 752.03L195.1 750.59L199.8 748.3L204.5 743.02L209.2 741.14L213.9 739.7L218.6 739.7L223.3 739.7L228 739.57L241.5 738.62L249.7 739.2L254.5 738.25L259.23 737L263.95 735.45L268.68 733.58L273.41 732.51L278.14 731.77L282.86 731.24L287.59 730.08L292.32 728.92L297.05 727.7L301.77 720.64L306.5 689.9" stroke="#00009a" stroke-width="0.5" fill="none"/>
<path d="M77.6 829.44L81.3 836.64L73.9 836.64Z" fill="#00009a"/>
<path d="M82.3 825.38L86 832.58L78.6 832.58Z" fill="#00009a"/>
<path d="M87 815.39L90.7 822.59L83.3 822.59Z" fill="#00009a"/>
<path d="M91.7 808.11L95.4 815.31L88 815.31Z" fill="#00009a"/>
<path d="M96.4 806.41L100.1 813.61L92.7 813.61Z" fill="#00009a"/>
<path d="M101.1 805.79L104.8 812.99L97.4 812.99Z" fill="#00009a"/>
<path d="M105.8 804.33L109.5 811.53L102.1 811.53Z" fill="#00009a"/>
<path d="M110.5 802.49L114.2 809.69L106.8 809.69Z" fill="#00009a"/>
<path d="M115.2 800.14L118.9 807.34L111.5 807.34Z" fill="#00009a"/>
<path d="M119.9 798.41L123.6 805.61L116.2 805.61Z" fill="#00009a"/>
<path d="M124.6 797.24L128.3 804.44L120.9 804.44Z" fill="#00009a"/>
<path d="M129.3 771.68L133 778.88L125.6 778.88Z" fill="#00009a"/>
<path d="M134 769.62L137.7 776.82L130.3 776.82Z" fill="#00009a"/>
<path d="M138.7 767.57L142.4 774.77L135 774.77Z" fill="#00009a"/>
<path d="M143.4 765.59L147.1 772.79L139.7 772.79Z" fill="#00009a"/>
<path d="M148.1 763.61L151.8 770.81L144.4 770.81Z" fill="#00009a"/>
<path d="M152.8 762.64L156.5 769.84L149.1 769.84Z" fill="#00009a"/>
<path d="M157.5 762.2L161.2 769.4L153.8 769.4Z" fill="#00009a"/>
<path d="M162.2 761.12L165.9 768.32L158.5 768.32Z" fill="#00009a"/>
<path d="M166.9 759.69L170.6 766.89L163.2 766.89Z" fill="#00009a"/>
<path d="M171.6 757.43L175.3 764.63L167.9 764.63Z" fill="#00009a"/>
<path d="M176.3 754.66L180 761.86L172.6 761.86Z" fill="#00009a"/>
<path d="M181 752.12L184.7 759.32L177.3 759.32Z" fill="#00009a"/>
<path d="M185.7 749.75L189.4 756.95L182 756.95Z" fill="#00009a"/>
<path d="M190.4 747.56L194.1 754.76L186.7 754.76Z" fill="#00009a"/>
<path d="M195.1 746.13L198.8 753.33L191.4 753.33Z" fill="#00009a"/>
<path d="M199.8 743.84L203.5 751.04L196.1 751.04Z" fill="#00009a"/>
<path d="M204.5 738.56L208.2 745.76L200.8 745.76Z" fill="#00009a"/>
<path d="M209.2 736.68L212.9 743.88L205.5 743.88Z" fill="#00009a"/>
<path d="M213.9 735.24L217.6 742.44L210.2 742.44Z" fill="#00009a"/>
<path d="M218.6 735.24L222.3 742.44L214.9 742.44Z" fill="#00009a"/>
<path d="M223.3 735.24L227 742.44L219.6 742.44Z" fill="#00009a"/>
<path d="M228 735.1L231.7 742.3L224.3 742.3Z" fill="#00009a"/>
<path d="M241.5 734.16L245.2 741.36L237.8 741.36Z" fill="#00009a"/>
<path d="M249.7 734.74L253.4 741.94L246 741.94Z" fill="#00009a"/>
<path d="M254.5 733.79L258.2 740.99L250.8 740.99Z" fill="#00009a"/>
<path d="M259.23 732.54L262.93 739.74L255.53 739.74Z" fill="#00009a"/>
<path d="M263.95 730.98L267.65 738.18L260.25 738.18Z" fill="#00009a"/>
<path d="M268.68 729.12L272.38 736.32L264.98 736.32Z" fill="#00009a"/>
<path d="M273.41 728.05L277.11 735.25L269.71 735.25Z" fill="#00009a"/>
<path d="M278.14 727.31L281.84 734.51L274.44 734.51Z" fill="#00009a"/>
<path d="M282.86 726.77L286.56 733.97L279.16 733.97Z" fill="#00009a"/>
<path d="M287.59 725.61L291.29 732.81L283.89 732.81Z" fill="#00009a"/>
<path d="M292.32 724.45L296.02 731.65L288.62 731.65Z" fill="#00009a"/>
<path d="M297.05 723.23L300.75 730.43L293.35 730.43Z" fill="#00009a"/>
<path d="M301.77 716.18L305.47 723.38L298.07 723.38Z" fill="#00009a"/>
<path d="M306.5 685.44L310.2 692.64L302.8 692.64Z" fill="#00009a"/>
<path d="M77.6 875.6L82.3 873.25L87 871.35L91.7 870.17L96.4 868.57L101.1 866.83L105.8 865.04L110.5 859.74L115.2 856.43L119.9 852.54L124.6 847.95L129.3 844.11L134 842.32L138.7 840.63L143.4 838.85L148.1 836.5L152.8 831.87L157.5 826.22L162.2 824.43L166.9 823.16L171.6 822.61L176.3 819.3L181 815.83L185.7 812.99L190.4 810.61L195.1 807.7L199.8 803L204.5 798.74L209.2 795.77L213.9 793.82L218.6 792.43L223.3 790.79L228 789L241.5 788.64L249.7 778.72L254.5 766.07L259.23 762.28L263.95 759.43L268.68 753.75L273.41 747.23L278.14 740.61L282.86 732.16L287.59 718.26L292.32 709.15L297.05 703.03L301.77 686.33L306.5 676.8" stroke="#0000ff" stroke-width="0.5" fill="none"/>
<path d="M77.6 880.06L81.3 872.86L73.9 872.86Z" fill="#0000ff"/>
<path d="M82.3 877.71L86 870.51L78.6 870.51Z" fill="#0000ff"/>
<path d="M87 875.81L90.7 868.61L83.3 868.61Z" fill="#0000ff"/>
<path d="M91.7 874.64L95.4 867.44L88 867.44Z" fill="#0000ff"/>
<path d="M96.4 873.04L100.1 865.84L92.7 865.84Z" fill="#0000ff"/>
<path d="M101.1 871.3L104.8 864.1L97.4 864.1Z" fill="#0000ff"/>
<path d="M105.8 869.5L109.5 862.3L102.1 862.3Z" fill="#0000ff"/>
<path d="M110.5 864.2L114.2 857L106.8 857Z" fill="#0000ff"/>
<path d="M115.2 860.9L118.9 853.7L111.5 853.7Z" fill="#0000ff"/>
<path d="M119.9 857.01L123.6 849.81L116.2 849.81Z" fill="#0000ff"/>
<path d="M124.6 852.41L128.3 845.21L120.9 845.21Z" fill="#0000ff"/>
<path d="M129.3 848.57L133 841.37L125.6 841.37Z" fill="#0000ff"/>
<path d="M134 846.78L137.7 839.58L130.3 839.58Z" fill="#0000ff"/>
<path d="M138.7 845.1L142.4 837.9L135 837.9Z" fill="#0000ff"/>
<path d="M143.4 843.31L147.1 836.11L139.7 836.11Z" fill="#0000ff"/>
<path d="M148.1 840.96L151.8 833.76L144.4 833.76Z" fill="#0000ff"/>
<path d="M152.8 836.33L156.5 829.13L149.1 829.13Z" fill="#0000ff"/>
<path d="M157.5 830.69L161.2 823.49L153.8 823.49Z" fill="#0000ff"/>
<path d="M162.2 828.89L165.9 821.69L158.5 821.69Z" fill="#0000ff"/>
<path d="M166.9 827.63L170.6 820.43L163.2 820.43Z" fill="#0000ff"/>
<path d="M171.6 827.07L175.3 819.87L167.9 819.87Z" fill="#0000ff"/>
<path d="M176.3 823.76L180 816.56L172.6 816.56Z" fill="#0000ff"/>
<path d="M181 820.3L184.7 813.1L177.3 813.1Z" fill="#0000ff"/>
<path d="M185.7 817.45L189.4 810.25L182 810.25Z" fill="#0000ff"/>
<path d="M190.4 815.07L194.1 807.87L186.7 807.87Z" fill="#0000ff"/>
<path d="M195.1 812.16L198.8 804.96L191.4 804.96Z" fill="#0000ff"/>
<path d="M199.8 807.46L203.5 800.26L196.1 800.26Z" fill="#0000ff"/>
<path d="M204.5 803.21L208.2 796.01L200.8 796.01Z" fill="#0000ff"/>
<path d="M209.2 800.24L212.9 793.04L205.5 793.04Z" fill="#0000ff"/>
<path d="M213.9 798.28L217.6 791.08L210.2 791.08Z" fill="#0000ff"/>
<path d="M218.6 796.89L222.3 789.69L214.9 789.69Z" fill="#0000ff"/>
<path d="M223.3 795.26L227 788.06L219.6 788.06Z" fill="#0000ff"/>
<path d="M228 793.46L231.7 786.26L224.3 786.26Z" fill="#0000ff"/>
<path d="M241.5 793.1L245.2 785.9L237.8 785.9Z" fill="#0000ff"/>
<path d="M249.7 783.18L253.4 775.98L246 775.98Z" fill="#0000ff"/>
<path d="M254.5 770.53L258.2 763.33L250.8 763.33Z" fill="#0000ff"/>
<path d="M259.23 766.75L262.93 759.55L255.53 759.55Z" fill="#0000ff"/>
<path d="M263.95 763.89L267.65 756.69L260.25 756.69Z" fill="#0000ff"/>
<path d="M268.68 758.21L272.38 751.01L264.98 751.01Z" fill="#0000ff"/>
<path d="M273.41 751.69L277.11 744.49L269.71 744.49Z" fill="#0000ff"/>
<path d="M278.14 745.07L281.84 737.87L274.44 737.87Z" fill="#0000ff"/>
<path d="M282.86 736.62L286.56 729.42L279.16 729.42Z" fill="#0000ff"/>
<path d="M287.59 722.72L291.29 715.52L283.89 715.52Z" fill="#0000ff"/>
<path d="M292.32 713.62L296.02 706.42L288.62 706.42Z" fill="#0000ff"/>
<path d="M297.05 707.49L300.75 700.29L293.35 700.29Z" fill="#0000ff"/>
<path d="M301.77 690.79L305.47 683.59L298.07 683.59Z" fill="#0000ff"/>
<path d="M306.5 681.26L310.2 674.06L302.8 674.06Z" fill="#0000ff"/>
<path d="M77.6 820.6L82.3 819.98L87 819.6L91.7 819.6L96.4 819.6L101.1 819.6L105.8 819.33L110.5 818.54L115.2 817.75L119.9 811.83L124.6 808.97L129.3 806.6L134 801.85L138.7 793.37L143.4 786.09L148.1 781.31L152.8 776.6L157.5 774.58L162.2 773.41L166.9 770.44L171.6 768.45L176.3 767.06L181 765.93L185.7 764.98L190.4 762.37L195.1 760.8L199.8 759.23L204.5 757.81L209.2 756.47L213.9 755.13L218.6 753.79L223.3 752.44L228 751.1L241.5 750.42L249.7 749.1L254.5 747.25L259.23 745.55L263.95 743.29L268.68 739.89L273.41 738.32L278.14 737.07L282.86 736.26L287.59 735.6L292.32 734.81L297.05 734.03L301.77 733.21L306.5 732.21" stroke="#008000" stroke-width="0.5" fill="none"/>
<path d="M77.6 816.1L81.6 820.6L77.6 825.1L73.6 820.6Z" fill="#008000"/>
<path d="M82.3 815.48L86.3 819.98L82.3 824.48L78.3 819.98Z" fill="#008000"/>
<path d="M87 815.1L91 819.6L87 824.1L83 819.6Z" fill="#008000"/>
<path d="M91.7 815.1L95.7 819.6L91.7 824.1L87.7 819.6Z" fill="#008000"/>
<path d="M96.4 815.1L100.4 819.6L96.4 824.1L92.4 819.6Z" fill="#008000"/>
<path d="M101.1 815.1L105.1 819.6L101.1 824.1L97.1 819.6Z" fill="#008000"/>
<path d="M105.8 814.83L109.8 819.33L105.8 823.83L101.8 819.33Z" fill="#008000"/>
<path d="M110.5 814.04L114.5 818.54L110.5 823.04L106.5 818.54Z" fill="#008000"/>
<path d="M115.2 813.25L119.2 817.75L115.2 822.25L111.2 817.75Z" fill="#008000"/>
<path d="M119.9 807.33L123.9 811.83L119.9 816.33L115.9 811.83Z" fill="#008000"/>
<path d="M124.6 804.47L128.6 808.97L124.6 813.47L120.6 808.97Z" fill="#008000"/>
<path d="M129.3 802.1L133.3 806.6L129.3 811.1L125.3 806.6Z" fill="#008000"/>
<path d="M134 797.35L138 801.85L134 806.35L130 801.85Z" fill="#008000"/>
<path d="M138.7 788.87L142.7 793.37L138.7 797.87L134.7 793.37Z" fill="#008000"/>
<path d="M143.4 781.59L147.4 786.09L143.4 790.59L139.4 786.09Z" fill="#008000"/>
<path d="M148.1 776.81L152.1 781.31L148.1 785.81L144.1 781.31Z" fill="#008000"/>
<path d="M152.8 772.1L156.8 776.6L152.8 781.1L148.8 776.6Z" fill="#008000"/>
<path d="M157.5 770.08L161.5 774.58L157.5 779.08L153.5 774.58Z" fill="#008000"/>
<path d="M162.2 768.91L166.2 773.41L162.2 777.91L158.2 773.41Z" fill="#008000"/>
<path d="M166.9 765.94L170.9 770.44L166.9 774.94L162.9 770.44Z" fill="#008000"/>
<path d="M171.6 763.95L175.6 768.45L171.6 772.95L167.6 768.45Z" fill="#008000"/>
<path d="M176.3 762.56L180.3 767.06L176.3 771.56L172.3 767.06Z" fill="#008000"/>
<path d="M181 761.43L185 765.93L181 770.43L177 765.93Z" fill="#008000"/>
<path d="M185.7 760.48L189.7 764.98L185.7 769.48L181.7 764.98Z" fill="#008000"/>
<path d="M190.4 757.87L194.4 762.37L190.4 766.87L186.4 762.37Z" fill="#008000"/>
<path d="M195.1 756.3L199.1 760.8L195.1 765.3L191.1 760.8Z" fill="#008000"/>
<path d="M199.8 754.73L203.8 759.23L199.8 763.73L195.8 759.23Z" fill="#008000"/>
<path d="M204.5 753.31L208.5 757.81L204.5 762.31L200.5 757.81Z" fill="#008000"/>
<path d="M209.2 751.97L213.2 756.47L209.2 760.97L205.2 756.47Z" fill="#008000"/>
<path d="M213.9 750.63L217.9 755.13L213.9 759.63L209.9 755.13Z" fill="#008000"/>
<path d="M218.6 749.29L222.6 753.79L218.6 758.29L214.6 753.79Z" fill="#008000"/>
<path d="M223.3 747.94L227.3 752.44L223.3 756.94L219.3 752.44Z" fill="#008000"/>
<path d="M228 746.6L232 751.1L228 755.6L224 751.1Z" fill="#008000"/>
<path d="M241.5 745.92L245.5 750.42L241.5 754.92L237.5 750.42Z" fill="#008000"/>
<path d="M249.7 744.6L253.7 749.1L249.7 753.6L245.7 749.1Z" fill="#008000"/>
<path d="M254.5 742.75L258.5 747.25L254.5 751.75L250.5 747.25Z" fill="#008000"/>
<path d="M259.23 741.05L263.23 745.55L259.23 750.05L255.23 745.55Z" fill="#008000"/>
<path d="M263.95 738.79L267.95 743.29L263.95 747.79L259.95 743.29Z" fill="#008000"/>
<path d="M268.68 735.39L272.68 739.89L268.68 744.39L264.68 739.89Z" fill="#008000"/>
<path d="M273.41 733.82L277.41 738.32L273.41 742.82L269.41 738.32Z" fill="#008000"/>
<path d="M278.14 732.57L282.14 737.07L278.14 741.57L274.14 737.07Z" fill="#008000"/>
<path d="M282.86 731.76L286.86 736.26L282.86 740.76L278.86 736.26Z" fill="#008000"/>
<path d="M287.59 731.1L291.59 735.6L287.59 740.1L283.59 735.6Z" fill="#008000"/>
<path d="M292.32 730.31L296.32 734.81L292.32 739.31L288.32 734.81Z" fill="#008000"/>
<path d="M297.05 729.53L301.05 734.03L297.05 738.53L293.05 734.03Z" fill="#008000"/>
<path d="M301.77 728.71L305.77 733.21L301.77 737.71L297.77 733.21Z" fill="#008000"/>
<path d="M306.5 727.71L310.5 732.21L306.5 736.71L302.5 732.21Z" fill="#008000"/>
<path d="M77.6 856.6L82.3 854.87L87 853.25L91.7 851.82L96.4 850.56L101.1 849.62L105.8 848.52L110.5 847.12L115.2 845.88L119.9 844.94L124.6 844.1L129.3 843.48L134 840L138.7 835.41L143.4 831.94L148.1 829.55L152.8 828.38L157.5 827.67L162.2 825.42L166.9 817.81L171.6 810.89L176.3 804.4L181 801.49L185.7 798.55L190.4 795.54L195.1 790.25L199.8 784.9L204.5 780.2L209.2 776.34L213.9 772.63L218.6 770.7L223.3 769.13L228 768.07L241.5 767.17L249.7 766.31L254.5 757.33L259.23 755.89L263.95 753.33L268.68 750.81L273.41 748.04L278.14 744.82L282.86 736.6L287.59 736.6L292.32 732.6L297.05 727.49L301.77 711.24L306.5 701.34" stroke="#800000" stroke-width="0.5" fill="none"/>
<path d="M73.63 856.6L80.03 852.3L80.03 860.9Z" fill="#800000"/>
<path d="M78.33 854.87L84.73 850.57L84.73 859.17Z" fill="#800000"/>
<path d="M83.03 853.25L89.43 848.95L89.43 857.55Z" fill="#800000"/>
<path d="M87.73 851.82L94.13 847.52L94.13 856.12Z" fill="#800000"/>
<path d="M92.43 850.56L98.83 846.26L98.83 854.86Z" fill="#800000"/>
<path d="M97.13 849.62L103.53 845.32L103.53 853.92Z" fill="#800000"/>
<path d="M101.83 848.52L108.23 844.22L108.23 852.82Z" fill="#800000"/>
<path d="M106.53 847.12L112.93 842.82L112.93 851.42Z" fill="#800000"/>
<path d="M111.23 845.88L117.63 841.58L117.63 850.18Z" fill="#800000"/>
<path d="M115.93 844.94L122.33 840.64L122.33 849.24Z" fill="#800000"/>
<path d="M120.63 844.1L127.03 839.8L127.03 848.4Z" fill="#800000"/>
<path d="M125.33 843.48L131.73 839.18L131.73 847.78Z" fill="#800000"/>
<path d="M130.03 840L136.43 835.7L136.43 844.3Z" fill="#800000"/>
<path d="M134.73 835.41L141.13 831.11L141.13 839.71Z" fill="#800000"/>
<path d="M139.43 831.94L145.83 827.64L145.83 836.24Z" fill="#800000"/>
<path d="M144.13 829.55L150.53 825.25L150.53 833.85Z" fill="#800000"/>
<path d="M148.83 828.38L155.23 824.08L155.23 832.67Z" fill="#800000"/>
<path d="M153.53 827.67L159.93 823.37L159.93 831.97Z" fill="#800000"/>
<path d="M158.23 825.42L164.63 821.12L164.63 829.72Z" fill="#800000"/>
<path d="M162.93 817.81L169.33 813.51L169.33 822.11Z" fill="#800000"/>
<path d="M167.63 810.89L174.03 806.59L174.03 815.19Z" fill="#800000"/>
<path d="M172.33 804.4L178.73 800.1L178.73 808.7Z" fill="#800000"/>
<path d="M177.03 801.49L183.43 797.19L183.43 805.79Z" fill="#800000"/>
<path d="M181.73 798.55L188.13 794.25L188.13 802.85Z" fill="#800000"/>
<path d="M186.43 795.54L192.83 791.24L192.83 799.84Z" fill="#800000"/>
<path d="M191.13 790.25L197.53 785.95L197.53 794.55Z" fill="#800000"/>
<path d="M195.83 784.9L202.23 780.6L202.23 789.2Z" fill="#800000"/>
<path d="M200.53 780.2L206.93 775.9L206.93 784.5Z" fill="#800000"/>
<path d="M205.23 776.34L211.63 772.04L211.63 780.64Z" fill="#800000"/>
<path d="M209.93 772.63L216.33 768.33L216.33 776.93Z" fill="#800000"/>
<path d="M214.63 770.7L221.03 766.4L221.03 775Z" fill="#800000"/>
<path d="M219.33 769.13L225.73 764.83L225.73 773.43Z" fill="#800000"/>
<path d="M224.03 768.07L230.43 763.77L230.43 772.37Z" fill="#800000"/>
<path d="M237.53 767.17L243.93 762.87L243.93 771.47Z" fill="#800000"/>
<path d="M245.73 766.31L252.13 762.01L252.13 770.61Z" fill="#800000"/>
<path d="M250.53 757.33L256.93 753.03L256.93 761.63Z" fill="#800000"/>
<path d="M255.26 755.89L261.66 751.59L261.66 760.19Z" fill="#800000"/>
<path d="M259.99 753.33L266.39 749.03L266.39 757.63Z" fill="#800000"/>
<path d="M264.71 750.81L271.11 746.51L271.11 755.11Z" fill="#800000"/>
<path d="M269.44 748.04L275.84 743.74L275.84 752.34Z" fill="#800000"/>
<path d="M274.17 744.82L280.57 740.52L280.57 749.12Z" fill="#800000"/>
<path d="M278.9 736.6L285.3 732.3L285.3 740.9Z" fill="#800000"/>
<path d="M283.62 736.6L290.02 732.3L290.02 740.9Z" fill="#800000"/>
<path d="M288.35 732.6L294.75 728.3L294.75 736.9Z" fill="#800000"/>
<path d="M293.08 727.49L299.48 723.19L299.48 731.79Z" fill="#800000"/>
<path d="M297.8 711.24L304.2 706.94L304.2 715.54Z" fill="#800000"/>
<path d="M302.53 701.34L308.93 697.04L308.93 705.64Z" fill="#800000"/>
<rect x="400.9" y="651.5" width="281.4" height="263.5" fill="none" stroke="#000" stroke-width="3.0"/>
<text x="400.9" y="932" font-size="11" font-weight="bold" text-anchor="middle">1</text>
<text x="452.06" y="932" font-size="11" font-weight="bold" text-anchor="middle">2</text>
<text x="503.23" y="932" font-size="11" font-weight="bold" text-anchor="middle">3</text>
<text x="554.39" y="932" font-size="11" font-weight="bold" text-anchor="middle">4</text>
<text x="605.55" y="932" font-size="11" font-weight="bold" text-anchor="middle">5</text>
<text x="656.72" y="932" font-size="11" font-weight="bold" text-anchor="middle">6</text>
<text x="394.4" y="677.06" font-size="11.5" font-weight="bold" text-anchor="end">-3</text>
<text x="394.4" y="720.98" font-size="11.5" font-weight="bold" text-anchor="end">-4</text>
<text x="394.4" y="764.89" font-size="11.5" font-weight="bold" text-anchor="end">-5</text>
<text x="394.4" y="808.81" font-size="11.5" font-weight="bold" text-anchor="end">-6</text>
<text x="394.4" y="852.73" font-size="11.5" font-weight="bold" text-anchor="end">-7</text>
<text x="394.4" y="896.64" font-size="11.5" font-weight="bold" text-anchor="end">-8</text>
<path d="M400.9 915V920M426.48 915V918.2M452.06 915V920M477.65 915V918.2M503.23 915V920M528.81 915V918.2M554.39 915V920M579.97 915V918.2M605.55 915V920M631.14 915V918.2M656.72 915V920M682.3 915V918.2M400.9 651.5H397.9M400.9 673.46H396.4M400.9 695.42H397.9M400.9 717.38H396.4M400.9 739.33H397.9M400.9 761.29H396.4M400.9 783.25H397.9M400.9 805.21H396.4M400.9 827.17H397.9M400.9 849.12H396.4M400.9 871.08H397.9M400.9 893.04H396.4M400.9 915H397.9" stroke="#000" stroke-width="2.4" stroke-linecap="round" fill="none"/>
<path d="M439.8 846.1L446.4 844.4L450.8 842.8L466.7 832.9L517.3 815L549.4 813.8L563.1 803.4L578 792L596.9 767.4L610 762L630 756L645 748L656 736" stroke="#000000" stroke-width="0.45" fill="none"/>
<rect x="437.2" y="842.95" width="5.2" height="6.3" fill="#000000"/>
<rect x="443.8" y="841.25" width="5.2" height="6.3" fill="#000000"/>
<rect x="448.2" y="839.65" width="5.2" height="6.3" fill="#000000"/>
<rect x="464.1" y="829.75" width="5.2" height="6.3" fill="#000000"/>
<rect x="514.7" y="811.85" width="5.2" height="6.3" fill="#000000"/>
<rect x="546.8" y="810.65" width="5.2" height="6.3" fill="#000000"/>
<rect x="560.5" y="800.25" width="5.2" height="6.3" fill="#000000"/>
<rect x="575.4" y="788.85" width="5.2" height="6.3" fill="#000000"/>
<rect x="594.3" y="764.25" width="5.2" height="6.3" fill="#000000"/>
<rect x="607.4" y="758.85" width="5.2" height="6.3" fill="#000000"/>
<rect x="627.4" y="752.85" width="5.2" height="6.3" fill="#000000"/>
<rect x="642.4" y="744.85" width="5.2" height="6.3" fill="#000000"/>
<rect x="653.4" y="732.85" width="5.2" height="6.3" fill="#000000"/>
<path d="M432.1 892.7L437.1 870.7L446 858L456.3 850.4L467.2 839.5L471.6 824.7L482 821.4L519.5 813.9L535 810L542.5 805L550 800L556 796.5L562 793L568.5 789L575 785L584.6 766.7L589.7 763.1L594.1 762.3L600.7 761.7L615 759L622.5 758L630 757L637.5 753.5L645 750L650.85 743.5L656.7 737" stroke="#ff0000" stroke-width="0.45" fill="none"/>
<ellipse cx="432.1" cy="892.7" rx="2.75" ry="3.3" fill="#ff0000"/>
<ellipse cx="437.1" cy="870.7" rx="2.75" ry="3.3" fill="#ff0000"/>
<ellipse cx="446" cy="858" rx="2.75" ry="3.3" fill="#ff0000"/>
<ellipse cx="456.3" cy="850.4" rx="2.75" ry="3.3" fill="#ff0000"/>
<ellipse cx="467.2" cy="839.5" rx="2.75" ry="3.3" fill="#ff0000"/>
<ellipse cx="471.6" cy="824.7" rx="2.75" ry="3.3" fill="#ff0000"/>
<ellipse cx="482" cy="821.4" rx="2.75" ry="3.3" fill="#ff0000"/>
<ellipse cx="519.5" cy="813.9" rx="2.75" ry="3.3" fill="#ff0000"/>
<ellipse cx="535" cy="810" rx="2.75" ry="3.3" fill="#ff0000"/>
<ellipse cx="542.5" cy="805" rx="2.75" ry="3.3" fill="#ff0000"/>
<ellipse cx="550" cy="800" rx="2.75" ry="3.3" fill="#ff0000"/>
<ellipse cx="556" cy="796.5" rx="2.75" ry="3.3" fill="#ff0000"/>
<ellipse cx="562" cy="793" rx="2.75" ry="3.3" fill="#ff0000"/>
<ellipse cx="568.5" cy="789" rx="2.75" ry="3.3" fill="#ff0000"/>
<ellipse cx="575" cy="785" rx="2.75" ry="3.3" fill="#ff0000"/>
<ellipse cx="584.6" cy="766.7" rx="2.75" ry="3.3" fill="#ff0000"/>
<ellipse cx="589.7" cy="763.1" rx="2.75" ry="3.3" fill="#ff0000"/>
<ellipse cx="594.1" cy="762.3" rx="2.75" ry="3.3" fill="#ff0000"/>
<ellipse cx="600.7" cy="761.7" rx="2.75" ry="3.3" fill="#ff0000"/>
<ellipse cx="615" cy="759" rx="2.75" ry="3.3" fill="#ff0000"/>
<ellipse cx="622.5" cy="758" rx="2.75" ry="3.3" fill="#ff0000"/>
<ellipse cx="630" cy="757" rx="2.75" ry="3.3" fill="#ff0000"/>
<ellipse cx="637.5" cy="753.5" rx="2.75" ry="3.3" fill="#ff0000"/>
<ellipse cx="645" cy="750" rx="2.75" ry="3.3" fill="#ff0000"/>
<ellipse cx="650.85" cy="743.5" rx="2.75" ry="3.3" fill="#ff0000"/>
<ellipse cx="656.7" cy="737" rx="2.75" ry="3.3" fill="#ff0000"/>
<path d="M432.7 900.9L436.5 872.4L446.9 861.4L451.9 857.6L458 833L466.7 830.7L471 829.6L486.4 826.3L518.1 821.8L533 812L539.6 806L546.2 800L551.1 798.5L556 797L565 795L572.3 794L580 790L584 786L588 782L594.8 776.2L600.7 775.5L605.8 773.3L620.4 768.9L625.2 762.95L630 757L640.1 739.7L647.4 736.8L652.5 734.95L657.6 733.1" stroke="#00009a" stroke-width="0.45" fill="none"/>
<path d="M432.7 896.44L436.4 903.64L429 903.64Z" fill="#00009a"/>
<path d="M436.5 867.94L440.2 875.14L432.8 875.14Z" fill="#00009a"/>
<path d="M446.9 856.94L450.6 864.14L443.2 864.14Z" fill="#00009a"/>
<path d="M451.9 853.14L455.6 860.34L448.2 860.34Z" fill="#00009a"/>
<path d="M458 828.54L461.7 835.74L454.3 835.74Z" fill="#00009a"/>
<path d="M466.7 826.24L470.4 833.44L463 833.44Z" fill="#00009a"/>
<path d="M471 825.14L474.7 832.34L467.3 832.34Z" fill="#00009a"/>
<path d="M486.4 821.84L490.1 829.04L482.7 829.04Z" fill="#00009a"/>
<path d="M518.1 817.34L521.8 824.54L514.4 824.54Z" fill="#00009a"/>
<path d="M533 807.54L536.7 814.74L529.3 814.74Z" fill="#00009a"/>
<path d="M539.6 801.54L543.3 808.74L535.9 808.74Z" fill="#00009a"/>
<path d="M546.2 795.54L549.9 802.74L542.5 802.74Z" fill="#00009a"/>
<path d="M551.1 794.04L554.8 801.24L547.4 801.24Z" fill="#00009a"/>
<path d="M556 792.54L559.7 799.74L552.3 799.74Z" fill="#00009a"/>
<path d="M565 790.54L568.7 797.74L561.3 797.74Z" fill="#00009a"/>
<path d="M572.3 789.54L576 796.74L568.6 796.74Z" fill="#00009a"/>
<path d="M580 785.54L583.7 792.74L576.3 792.74Z" fill="#00009a"/>
<path d="M584 781.54L587.7 788.74L580.3 788.74Z" fill="#00009a"/>
<path d="M588 777.54L591.7 784.74L584.3 784.74Z" fill="#00009a"/>
<path d="M594.8 771.74L598.5 778.94L591.1 778.94Z" fill="#00009a"/>
<path d="M600.7 771.04L604.4 778.24L597 778.24Z" fill="#00009a"/>
<path d="M605.8 768.84L609.5 776.04L602.1 776.04Z" fill="#00009a"/>
<path d="M620.4 764.44L624.1 771.64L616.7 771.64Z" fill="#00009a"/>
<path d="M625.2 758.49L628.9 765.69L621.5 765.69Z" fill="#00009a"/>
<path d="M630 752.54L633.7 759.74L626.3 759.74Z" fill="#00009a"/>
<path d="M640.1 735.24L643.8 742.44L636.4 742.44Z" fill="#00009a"/>
<path d="M647.4 732.34L651.1 739.54L643.7 739.54Z" fill="#00009a"/>
<path d="M652.5 730.49L656.2 737.69L648.8 737.69Z" fill="#00009a"/>
<path d="M657.6 728.64L661.3 735.84L653.9 735.84Z" fill="#00009a"/>
<path d="M432.7 892.1L440.4 855.9L448 848L455.2 839.5L461.2 836.2L466.7 818.1L472.1 814.3L482 813.7L487.5 813.7L522.1 811.4L533.4 806.6L540.5 802.2L547.6 797.8L552.6 794.5L557.7 791.4L562.8 788.3L565.5 788.9L570.3 784.9L575.07 780.3L579.83 775.7L584.6 771.1L589.8 767.55L595 764L600 760.6L605 757.2L620.4 755L628.4 754.3L634.2 753.6L640.05 751.4L645.9 749.2L652 742L655.5 737.95L659 733.9" stroke="#0000ff" stroke-width="0.45" fill="none"/>
<path d="M432.7 896.56L436.4 889.36L429 889.36Z" fill="#0000ff"/>
<path d="M440.4 860.36L444.1 853.16L436.7 853.16Z" fill="#0000ff"/>
<path d="M448 852.46L451.7 845.26L444.3 845.26Z" fill="#0000ff"/>
<path d="M455.2 843.96L458.9 836.76L451.5 836.76Z" fill="#0000ff"/>
<path d="M461.2 840.66L464.9 833.46L457.5 833.46Z" fill="#0000ff"/>
<path d="M466.7 822.56L470.4 815.36L463 815.36Z" fill="#0000ff"/>
<path d="M472.1 818.76L475.8 811.56L468.4 811.56Z" fill="#0000ff"/>
<path d="M482 818.16L485.7 810.96L478.3 810.96Z" fill="#0000ff"/>
<path d="M487.5 818.16L491.2 810.96L483.8 810.96Z" fill="#0000ff"/>
<path d="M522.1 815.86L525.8 808.66L518.4 808.66Z" fill="#0000ff"/>
<path d="M533.4 811.06L537.1 803.86L529.7 803.86Z" fill="#0000ff"/>
<path d="M540.5 806.66L544.2 799.46L536.8 799.46Z" fill="#0000ff"/>
<path d="M547.6 802.26L551.3 795.06L543.9 795.06Z" fill="#0000ff"/>
<path d="M552.6 798.96L556.3 791.76L548.9 791.76Z" fill="#0000ff"/>
<path d="M557.7 795.86L561.4 788.66L554 788.66Z" fill="#0000ff"/>
<path d="M562.8 792.76L566.5 785.56L559.1 785.56Z" fill="#0000ff"/>
<path d="M565.5 793.36L569.2 786.16L561.8 786.16Z" fill="#0000ff"/>
<path d="M570.3 789.36L574 782.16L566.6 782.16Z" fill="#0000ff"/>
<path d="M575.07 784.76L578.77 777.56L571.37 777.56Z" fill="#0000ff"/>
<path d="M579.83 780.16L583.53 772.96L576.13 772.96Z" fill="#0000ff"/>
<path d="M584.6 775.56L588.3 768.36L580.9 768.36Z" fill="#0000ff"/>
<path d="M589.8 772.01L593.5 764.81L586.1 764.81Z" fill="#0000ff"/>
<path d="M595 768.46L598.7 761.26L591.3 761.26Z" fill="#0000ff"/>
<path d="M600 765.06L603.7 757.86L596.3 757.86Z" fill="#0000ff"/>
<path d="M605 761.66L608.7 754.46L601.3 754.46Z" fill="#0000ff"/>
<path d="M620.4 759.46L624.1 752.26L616.7 752.26Z" fill="#0000ff"/>
<path d="M628.4 758.76L632.1 751.56L624.7 751.56Z" fill="#0000ff"/>
<path d="M634.2 758.06L637.9 750.86L630.5 750.86Z" fill="#0000ff"/>
<path d="M640.05 755.86L643.75 748.66L636.35 748.66Z" fill="#0000ff"/>
<path d="M645.9 753.66L649.6 746.46L642.2 746.46Z" fill="#0000ff"/>
<path d="M652 746.46L655.7 739.26L648.3 739.26Z" fill="#0000ff"/>
<path d="M655.5 742.41L659.2 735.21L651.8 735.21Z" fill="#0000ff"/>
<path d="M659 738.36L662.7 731.16L655.3 731.16Z" fill="#0000ff"/>
<path d="M432.7 875.1L437.1 866.9L445.8 847.1L461.2 845.5L467.2 845L472.7 837.3L482.6 829.6L488 824.7L520.5 816.2L533.4 816.2L538.2 813L543 810.6L548.6 806.6L554.2 802.6L559.1 803.4L563.9 794.5L570.3 791.3L575.1 791.3L580.7 785.7L584.6 784.2L589 768.9L594.85 764.9L600.7 760.9L605 751.4L621.1 751.4L629.9 749.9L636.4 747.7L643 744.8L648.8 741.2L652.85 736.8L656.9 732.4" stroke="#008000" stroke-width="0.45" fill="none"/>
<path d="M432.7 870.6L436.7 875.1L432.7 879.6L428.7 875.1Z" fill="#008000"/>
<path d="M437.1 862.4L441.1 866.9L437.1 871.4L433.1 866.9Z" fill="#008000"/>
<path d="M445.8 842.6L449.8 847.1L445.8 851.6L441.8 847.1Z" fill="#008000"/>
<path d="M461.2 841L465.2 845.5L461.2 850L457.2 845.5Z" fill="#008000"/>
<path d="M467.2 840.5L471.2 845L467.2 849.5L463.2 845Z" fill="#008000"/>
<path d="M472.7 832.8L476.7 837.3L472.7 841.8L468.7 837.3Z" fill="#008000"/>
<path d="M482.6 825.1L486.6 829.6L482.6 834.1L478.6 829.6Z" fill="#008000"/>
<path d="M488 820.2L492 824.7L488 829.2L484 824.7Z" fill="#008000"/>
<path d="M520.5 811.7L524.5 816.2L520.5 820.7L516.5 816.2Z" fill="#008000"/>
<path d="M533.4 811.7L537.4 816.2L533.4 820.7L529.4 816.2Z" fill="#008000"/>
<path d="M538.2 808.5L542.2 813L538.2 817.5L534.2 813Z" fill="#008000"/>
<path d="M543 806.1L547 810.6L543 815.1L539 810.6Z" fill="#008000"/>
<path d="M548.6 802.1L552.6 806.6L548.6 811.1L544.6 806.6Z" fill="#008000"/>
<path d="M554.2 798.1L558.2 802.6L554.2 807.1L550.2 802.6Z" fill="#008000"/>
<path d="M559.1 798.9L563.1 803.4L559.1 807.9L555.1 803.4Z" fill="#008000"/>
<path d="M563.9 790L567.9 794.5L563.9 799L559.9 794.5Z" fill="#008000"/>
<path d="M570.3 786.8L574.3 791.3L570.3 795.8L566.3 791.3Z" fill="#008000"/>
<path d="M575.1 786.8L579.1 791.3L575.1 795.8L571.1 791.3Z" fill="#008000"/>
<path d="M580.7 781.2L584.7 785.7L580.7 790.2L576.7 785.7Z" fill="#008000"/>
<path d="M584.6 779.7L588.6 784.2L584.6 788.7L580.6 784.2Z" fill="#008000"/>
<path d="M589 764.4L593 768.9L589 773.4L585 768.9Z" fill="#008000"/>
<path d="M594.85 760.4L598.85 764.9L594.85 769.4L590.85 764.9Z" fill="#008000"/>
<path d="M600.7 756.4L604.7 760.9L600.7 765.4L596.7 760.9Z" fill="#008000"/>
<path d="M605 746.9L609 751.4L605 755.9L601 751.4Z" fill="#008000"/>
<path d="M621.1 746.9L625.1 751.4L621.1 755.9L617.1 751.4Z" fill="#008000"/>
<path d="M629.9 745.4L633.9 749.9L629.9 754.4L625.9 749.9Z" fill="#008000"/>
<path d="M636.4 743.2L640.4 747.7L636.4 752.2L632.4 747.7Z" fill="#008000"/>
<path d="M643 740.3L647 744.8L643 749.3L639 744.8Z" fill="#008000"/>
<path d="M648.8 736.7L652.8 741.2L648.8 745.7L644.8 741.2Z" fill="#008000"/>
<path d="M652.85 732.3L656.85 736.8L652.85 741.3L648.85 736.8Z" fill="#008000"/>
<path d="M656.9 727.9L660.9 732.4L656.9 736.9L652.9 732.4Z" fill="#008000"/>
<path d="M431.6 868L436 862.5L440.9 862.5L446.9 852.6L453 846.1L455.7 846.1L460.6 821.9L467.8 820.3L471 820.3L482 814.8L488.6 814.8L520.5 813.8L524.5 813L529.75 812.6L535 812.2L541.4 806.6L546.2 801.8L552.6 797L557.45 790.55L562.3 784.1L568.7 780.1L575.1 779.3L582.3 778.5L590.4 777.7L593.4 767.4L599.9 766L605.8 765.3L619.6 758.7L624.75 758.35L629.9 758L637.2 757.2L643 754.3L648.8 750.7L654.7 744.8L657.6 736.8" stroke="#800000" stroke-width="0.45" fill="none"/>
<path d="M427.63 868L434.03 863.7L434.03 872.3Z" fill="#800000"/>
<path d="M432.03 862.5L438.43 858.2L438.43 866.8Z" fill="#800000"/>
<path d="M436.93 862.5L443.33 858.2L443.33 866.8Z" fill="#800000"/>
<path d="M442.93 852.6L449.33 848.3L449.33 856.9Z" fill="#800000"/>
<path d="M449.03 846.1L455.43 841.8L455.43 850.4Z" fill="#800000"/>
<path d="M451.73 846.1L458.13 841.8L458.13 850.4Z" fill="#800000"/>
<path d="M456.63 821.9L463.03 817.6L463.03 826.2Z" fill="#800000"/>
<path d="M463.83 820.3L470.23 816L470.23 824.6Z" fill="#800000"/>
<path d="M467.03 820.3L473.43 816L473.43 824.6Z" fill="#800000"/>
<path d="M478.03 814.8L484.43 810.5L484.43 819.1Z" fill="#800000"/>
<path d="M484.63 814.8L491.03 810.5L491.03 819.1Z" fill="#800000"/>
<path d="M516.53 813.8L522.93 809.5L522.93 818.1Z" fill="#800000"/>
<path d="M520.53 813L526.93 808.7L526.93 817.3Z" fill="#800000"/>
<path d="M525.78 812.6L532.18 808.3L532.18 816.9Z" fill="#800000"/>
<path d="M531.03 812.2L537.43 807.9L537.43 816.5Z" fill="#800000"/>
<path d="M537.43 806.6L543.83 802.3L543.83 810.9Z" fill="#800000"/>
<path d="M542.23 801.8L548.63 797.5L548.63 806.1Z" fill="#800000"/>
<path d="M548.63 797L555.03 792.7L555.03 801.3Z" fill="#800000"/>
<path d="M553.48 790.55L559.88 786.25L559.88 794.85Z" fill="#800000"/>
<path d="M558.33 784.1L564.73 779.8L564.73 788.4Z" fill="#800000"/>
<path d="M564.73 780.1L571.13 775.8L571.13 784.4Z" fill="#800000"/>
<path d="M571.13 779.3L577.53 775L577.53 783.6Z" fill="#800000"/>
<path d="M578.33 778.5L584.73 774.2L584.73 782.8Z" fill="#800000"/>
<path d="M586.43 777.7L592.83 773.4L592.83 782Z" fill="#800000"/>
<path d="M589.43 767.4L595.83 763.1L595.83 771.7Z" fill="#800000"/>
<path d="M595.93 766L602.33 761.7L602.33 770.3Z" fill="#800000"/>
<path d="M601.83 765.3L608.23 761L608.23 769.6Z" fill="#800000"/>
<path d="M615.63 758.7L622.03 754.4L622.03 763Z" fill="#800000"/>
<path d="M620.78 758.35L627.18 754.05L627.18 762.65Z" fill="#800000"/>
<path d="M625.93 758L632.33 753.7L632.33 762.3Z" fill="#800000"/>
<path d="M633.23 757.2L639.63 752.9L639.63 761.5Z" fill="#800000"/>
<path d="M639.03 754.3L645.43 750L645.43 758.6Z" fill="#800000"/>
<path d="M644.83 750.7L651.23 746.4L651.23 755Z" fill="#800000"/>
<path d="M650.73 744.8L657.13 740.5L657.13 749.1Z" fill="#800000"/>
<path d="M653.63 736.8L660.03 732.5L660.03 741.1Z" fill="#800000"/>
<text x="55.9" y="23" font-size="16.6" font-weight="bold" textLength="87.7" lengthAdjust="spacingAndGlyphs">0% ZnONPs</text>
<text x="406.5" y="23.8" font-size="16.6" font-weight="bold" textLength="103.3" lengthAdjust="spacingAndGlyphs">2.5% ZnONPs</text>
<text x="57.6" y="340" font-size="16.6" font-weight="bold" textLength="90.7" lengthAdjust="spacingAndGlyphs">5% ZnONPs</text>
<text x="406.5" y="342" font-size="16.6" font-weight="bold" textLength="99.8" lengthAdjust="spacingAndGlyphs">7.5% ZnONPs</text>
<text x="44.9" y="674" font-size="16.6" font-weight="bold" textLength="100.3" lengthAdjust="spacingAndGlyphs">10% ZnONPs</text>
<text x="406.8" y="670.4" font-size="16.6" font-weight="bold" textLength="112" lengthAdjust="spacingAndGlyphs">100% ZnONPs</text>
<text x="155" y="287.1" font-size="17" font-weight="bold" textLength="66.4" lengthAdjust="spacingAndGlyphs">log f (Hz)</text>
<text x="483.3" y="288.3" font-size="17" font-weight="bold" textLength="67.3" lengthAdjust="spacingAndGlyphs">log f (Hz)</text>
<text x="138" y="607.4" font-size="17" font-weight="bold" textLength="68.2" lengthAdjust="spacingAndGlyphs">log f (Hz)</text>
<text x="484.7" y="607.7" font-size="17" font-weight="bold" textLength="66.7" lengthAdjust="spacingAndGlyphs">log f (Hz)</text>
<text x="132" y="947.9" font-size="17" font-weight="bold" textLength="68.6" lengthAdjust="spacingAndGlyphs">log f (Hz)</text>
<text x="485.6" y="950.3" font-size="17" font-weight="bold" textLength="70.4" lengthAdjust="spacingAndGlyphs">log f (Hz)</text>
<text transform="translate(17.6 198.6) rotate(-90)" font-size="19" font-weight="bold" textLength="141.9" lengthAdjust="spacingAndGlyphs">log conductivity</text>
<text transform="translate(19.6 526.3) rotate(-90)" font-size="19" font-weight="bold" textLength="143.4" lengthAdjust="spacingAndGlyphs">log conductivity</text>
<text transform="translate(19.2 857.2) rotate(-90)" font-size="19" font-weight="bold" textLength="146.4" lengthAdjust="spacingAndGlyphs">log conductivity</text>
</svg>
</body></html>
